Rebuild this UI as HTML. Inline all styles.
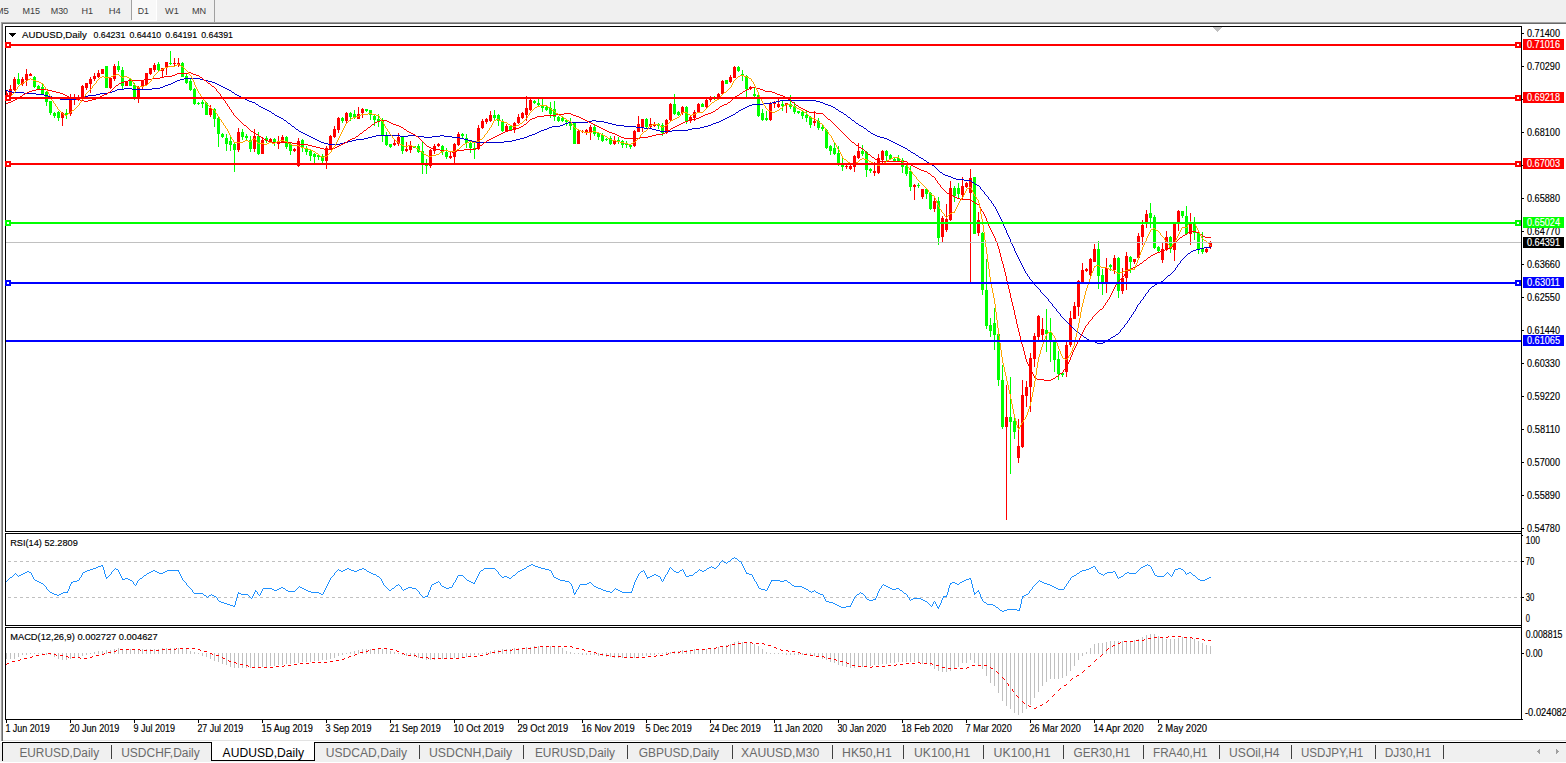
<!DOCTYPE html>
<html><head><meta charset="utf-8"><title>AUDUSD,Daily</title>
<style>
html,body{margin:0;padding:0;background:#fff;overflow:hidden;}
body{width:1566px;height:763px;font-family:"Liberation Sans",sans-serif;}
svg text{font-family:"Liberation Sans",sans-serif;white-space:pre;}
</style></head><body>
<svg width="1566" height="763" viewBox="0 0 1566 763" shape-rendering="crispEdges" font-family="Liberation Sans, sans-serif" style="display:block">
<rect x="0" y="0" width="1566" height="763" fill="#ffffff"/>
<rect x="0" y="0" width="1566" height="22" fill="#f0f0f0"/>
<rect x="0" y="22" width="1566" height="1" fill="#a0a0a0"/>
<rect x="1" y="23" width="1566" height="1" fill="#696969"/>
<rect x="0" y="22" width="1" height="720" fill="#f0f0f0"/>
<rect x="1" y="22" width="1" height="719" fill="#a0a0a0"/>
<rect x="2" y="23" width="1" height="718" fill="#696969"/>
<rect x="132" y="0" width="24" height="20" fill="#f8f8f8"/>
<rect x="156" y="0" width="1" height="21" fill="#ffffff"/>
<rect x="132" y="20" width="25" height="1" fill="#ffffff"/>
<rect x="131" y="0" width="1" height="20" fill="#a0a0a0"/>
<rect x="214" y="0" width="1" height="22" fill="#a0a0a0"/>
<text x="-4.5" y="14" font-size="9.2" fill="#3c3c3c" stroke="#3c3c3c" stroke-width="0" textLength="13.5" lengthAdjust="spacingAndGlyphs">M5</text>
<text x="22.4" y="14" font-size="9.2" fill="#3c3c3c" stroke="#3c3c3c" stroke-width="0" textLength="17.5" lengthAdjust="spacingAndGlyphs">M15</text>
<text x="50.7" y="14" font-size="9.2" fill="#3c3c3c" stroke="#3c3c3c" stroke-width="0" textLength="17.4" lengthAdjust="spacingAndGlyphs">M30</text>
<text x="81.4" y="14" font-size="9.2" fill="#3c3c3c" stroke="#3c3c3c" stroke-width="0" textLength="11.6" lengthAdjust="spacingAndGlyphs">H1</text>
<text x="108.7" y="14" font-size="9.2" fill="#3c3c3c" stroke="#3c3c3c" stroke-width="0" textLength="12.0" lengthAdjust="spacingAndGlyphs">H4</text>
<text x="137.8" y="14" font-size="9.2" fill="#3c3c3c" stroke="#3c3c3c" stroke-width="0" textLength="11.2" lengthAdjust="spacingAndGlyphs">D1</text>
<text x="165.1" y="14" font-size="9.2" fill="#3c3c3c" stroke="#3c3c3c" stroke-width="0" textLength="13.7" lengthAdjust="spacingAndGlyphs">W1</text>
<text x="192" y="14" font-size="9.2" fill="#3c3c3c" stroke="#3c3c3c" stroke-width="0" textLength="14.2" lengthAdjust="spacingAndGlyphs">MN</text>
<rect x="5" y="26" width="1517" height="1" fill="#000"/>
<rect x="5" y="531" width="1517" height="1" fill="#000"/>
<rect x="5" y="26" width="1" height="506" fill="#000"/>
<rect x="1521" y="26" width="1" height="694" fill="#000"/>
<rect x="5" y="533" width="1517" height="1" fill="#000"/>
<rect x="5" y="625" width="1517" height="1" fill="#000"/>
<rect x="5" y="533" width="1" height="93" fill="#000"/>
<rect x="5" y="627" width="1517" height="1" fill="#000"/>
<rect x="5" y="719" width="1517" height="1" fill="#000"/>
<rect x="5" y="627" width="1" height="93" fill="#000"/>
<polygon points="1212,27 1222,27 1217,32" fill="#c0c0c0"/>
<rect x="6" y="90" width="1" height="10" fill="#ff0000"/>
<rect x="6" y="93" width="2" height="6" fill="#ff0000"/>
<rect x="10" y="85" width="1" height="12" fill="#ff0000"/>
<rect x="9" y="89" width="3" height="7" fill="#ff0000"/>
<rect x="14" y="77" width="1" height="14" fill="#ff0000"/>
<rect x="13" y="79" width="3" height="11" fill="#ff0000"/>
<rect x="18" y="73" width="1" height="12" fill="#00ff00"/>
<rect x="17" y="79" width="3" height="5" fill="#00ff00"/>
<rect x="22" y="77" width="1" height="9" fill="#ff0000"/>
<rect x="21" y="79" width="3" height="5" fill="#ff0000"/>
<rect x="26" y="69" width="1" height="17" fill="#ff0000"/>
<rect x="25" y="74" width="3" height="6" fill="#ff0000"/>
<rect x="30" y="73" width="1" height="3" fill="#ff0000"/>
<rect x="29" y="74" width="3" height="2" fill="#ff0000"/>
<rect x="34" y="76" width="1" height="12" fill="#00ff00"/>
<rect x="33" y="77" width="3" height="10" fill="#00ff00"/>
<rect x="38" y="85" width="1" height="5" fill="#00ff00"/>
<rect x="37" y="86" width="3" height="3" fill="#00ff00"/>
<rect x="42" y="84" width="1" height="11" fill="#00ff00"/>
<rect x="41" y="87" width="3" height="7" fill="#00ff00"/>
<rect x="46" y="91" width="1" height="15" fill="#00ff00"/>
<rect x="45" y="92" width="3" height="10" fill="#00ff00"/>
<rect x="50" y="101" width="1" height="14" fill="#00ff00"/>
<rect x="49" y="101" width="3" height="12" fill="#00ff00"/>
<rect x="54" y="112" width="1" height="6" fill="#00ff00"/>
<rect x="53" y="113" width="3" height="3" fill="#00ff00"/>
<rect x="58" y="111" width="1" height="10" fill="#00ff00"/>
<rect x="57" y="112" width="3" height="6" fill="#00ff00"/>
<rect x="62" y="112" width="1" height="14" fill="#ff0000"/>
<rect x="61" y="113" width="3" height="5" fill="#ff0000"/>
<rect x="66" y="109" width="1" height="10" fill="#00ff00"/>
<rect x="65" y="113" width="3" height="2" fill="#00ff00"/>
<rect x="70" y="94" width="1" height="22" fill="#ff0000"/>
<rect x="69" y="99" width="3" height="15" fill="#ff0000"/>
<rect x="74" y="94" width="1" height="11" fill="#ff0000"/>
<rect x="73" y="98" width="3" height="2" fill="#ff0000"/>
<rect x="78" y="95" width="1" height="6" fill="#ff0000"/>
<rect x="77" y="98" width="3" height="2" fill="#ff0000"/>
<rect x="82" y="85" width="1" height="13" fill="#ff0000"/>
<rect x="81" y="86" width="3" height="11" fill="#ff0000"/>
<rect x="86" y="83" width="1" height="7" fill="#ff0000"/>
<rect x="85" y="83" width="3" height="5" fill="#ff0000"/>
<rect x="90" y="77" width="1" height="16" fill="#ff0000"/>
<rect x="89" y="79" width="3" height="5" fill="#ff0000"/>
<rect x="94" y="73" width="1" height="8" fill="#ff0000"/>
<rect x="93" y="76" width="3" height="3" fill="#ff0000"/>
<rect x="98" y="70" width="1" height="8" fill="#ff0000"/>
<rect x="97" y="73" width="3" height="4" fill="#ff0000"/>
<rect x="102" y="69" width="1" height="5" fill="#ff0000"/>
<rect x="101" y="69" width="3" height="5" fill="#ff0000"/>
<rect x="106" y="66" width="1" height="22" fill="#00ff00"/>
<rect x="105" y="66" width="3" height="22" fill="#00ff00"/>
<rect x="110" y="77" width="1" height="12" fill="#ff0000"/>
<rect x="109" y="78" width="3" height="10" fill="#ff0000"/>
<rect x="114" y="64" width="1" height="17" fill="#ff0000"/>
<rect x="113" y="66" width="3" height="13" fill="#ff0000"/>
<rect x="118" y="61" width="1" height="11" fill="#00ff00"/>
<rect x="117" y="66" width="3" height="4" fill="#00ff00"/>
<rect x="122" y="67" width="1" height="22" fill="#00ff00"/>
<rect x="121" y="70" width="3" height="16" fill="#00ff00"/>
<rect x="126" y="81" width="1" height="5" fill="#ff0000"/>
<rect x="125" y="81" width="3" height="5" fill="#ff0000"/>
<rect x="130" y="78" width="1" height="8" fill="#00ff00"/>
<rect x="129" y="79" width="3" height="7" fill="#00ff00"/>
<rect x="134" y="83" width="1" height="17" fill="#00ff00"/>
<rect x="133" y="85" width="3" height="12" fill="#00ff00"/>
<rect x="138" y="86" width="1" height="17" fill="#ff0000"/>
<rect x="137" y="87" width="3" height="11" fill="#ff0000"/>
<rect x="142" y="80" width="1" height="9" fill="#ff0000"/>
<rect x="141" y="81" width="3" height="6" fill="#ff0000"/>
<rect x="146" y="73" width="1" height="13" fill="#ff0000"/>
<rect x="145" y="73" width="3" height="12" fill="#ff0000"/>
<rect x="150" y="68" width="1" height="7" fill="#ff0000"/>
<rect x="149" y="68" width="3" height="6" fill="#ff0000"/>
<rect x="154" y="63" width="1" height="9" fill="#ff0000"/>
<rect x="153" y="65" width="3" height="5" fill="#ff0000"/>
<rect x="158" y="62" width="1" height="9" fill="#00ff00"/>
<rect x="157" y="64" width="3" height="6" fill="#00ff00"/>
<rect x="162" y="68" width="1" height="9" fill="#ff0000"/>
<rect x="161" y="68" width="3" height="3" fill="#ff0000"/>
<rect x="166" y="62" width="1" height="13" fill="#ff0000"/>
<rect x="165" y="62" width="3" height="6" fill="#ff0000"/>
<rect x="170" y="51" width="1" height="14" fill="#00ff00"/>
<rect x="169" y="63" width="3" height="1" fill="#00ff00"/>
<rect x="174" y="58" width="1" height="8" fill="#ff0000"/>
<rect x="173" y="63" width="3" height="1" fill="#ff0000"/>
<rect x="178" y="58" width="1" height="9" fill="#ff0000"/>
<rect x="177" y="63" width="3" height="2" fill="#ff0000"/>
<rect x="182" y="62" width="1" height="15" fill="#00ff00"/>
<rect x="181" y="63" width="3" height="14" fill="#00ff00"/>
<rect x="186" y="74" width="1" height="10" fill="#00ff00"/>
<rect x="185" y="76" width="3" height="7" fill="#00ff00"/>
<rect x="190" y="79" width="1" height="12" fill="#00ff00"/>
<rect x="189" y="81" width="3" height="9" fill="#00ff00"/>
<rect x="194" y="88" width="1" height="17" fill="#00ff00"/>
<rect x="193" y="89" width="3" height="15" fill="#00ff00"/>
<rect x="198" y="102" width="1" height="3" fill="#00ff00"/>
<rect x="197" y="103" width="3" height="1" fill="#00ff00"/>
<rect x="202" y="100" width="1" height="8" fill="#00ff00"/>
<rect x="201" y="102" width="3" height="2" fill="#00ff00"/>
<rect x="206" y="102" width="1" height="13" fill="#00ff00"/>
<rect x="205" y="103" width="3" height="12" fill="#00ff00"/>
<rect x="210" y="105" width="1" height="12" fill="#ff0000"/>
<rect x="209" y="108" width="3" height="7" fill="#ff0000"/>
<rect x="214" y="108" width="1" height="19" fill="#00ff00"/>
<rect x="213" y="109" width="3" height="10" fill="#00ff00"/>
<rect x="218" y="116" width="1" height="31" fill="#00ff00"/>
<rect x="217" y="118" width="3" height="16" fill="#00ff00"/>
<rect x="222" y="133" width="1" height="5" fill="#00ff00"/>
<rect x="221" y="134" width="3" height="3" fill="#00ff00"/>
<rect x="226" y="134" width="1" height="17" fill="#00ff00"/>
<rect x="225" y="138" width="3" height="6" fill="#00ff00"/>
<rect x="230" y="135" width="1" height="16" fill="#00ff00"/>
<rect x="229" y="141" width="3" height="4" fill="#00ff00"/>
<rect x="234" y="142" width="1" height="30" fill="#00ff00"/>
<rect x="233" y="144" width="3" height="6" fill="#00ff00"/>
<rect x="238" y="128" width="1" height="24" fill="#ff0000"/>
<rect x="237" y="132" width="3" height="18" fill="#ff0000"/>
<rect x="242" y="129" width="1" height="11" fill="#00ff00"/>
<rect x="241" y="132" width="3" height="5" fill="#00ff00"/>
<rect x="246" y="134" width="1" height="6" fill="#00ff00"/>
<rect x="245" y="136" width="3" height="2" fill="#00ff00"/>
<rect x="250" y="136" width="1" height="16" fill="#00ff00"/>
<rect x="249" y="140" width="3" height="9" fill="#00ff00"/>
<rect x="254" y="129" width="1" height="23" fill="#ff0000"/>
<rect x="253" y="136" width="3" height="13" fill="#ff0000"/>
<rect x="258" y="132" width="1" height="23" fill="#00ff00"/>
<rect x="257" y="136" width="3" height="18" fill="#00ff00"/>
<rect x="262" y="137" width="1" height="17" fill="#ff0000"/>
<rect x="261" y="140" width="3" height="14" fill="#ff0000"/>
<rect x="266" y="136" width="1" height="7" fill="#00ff00"/>
<rect x="265" y="138" width="3" height="3" fill="#00ff00"/>
<rect x="270" y="138" width="1" height="4" fill="#ff0000"/>
<rect x="269" y="139" width="3" height="2" fill="#ff0000"/>
<rect x="274" y="138" width="1" height="8" fill="#00ff00"/>
<rect x="273" y="139" width="3" height="4" fill="#00ff00"/>
<rect x="278" y="136" width="1" height="13" fill="#ff0000"/>
<rect x="277" y="141" width="3" height="3" fill="#ff0000"/>
<rect x="282" y="135" width="1" height="8" fill="#ff0000"/>
<rect x="281" y="137" width="3" height="5" fill="#ff0000"/>
<rect x="286" y="136" width="1" height="13" fill="#00ff00"/>
<rect x="285" y="137" width="3" height="10" fill="#00ff00"/>
<rect x="290" y="142" width="1" height="13" fill="#00ff00"/>
<rect x="289" y="144" width="3" height="7" fill="#00ff00"/>
<rect x="294" y="148" width="1" height="4" fill="#ff0000"/>
<rect x="293" y="149" width="3" height="2" fill="#ff0000"/>
<rect x="298" y="138" width="1" height="29" fill="#ff0000"/>
<rect x="297" y="141" width="3" height="25" fill="#ff0000"/>
<rect x="302" y="139" width="1" height="13" fill="#00ff00"/>
<rect x="301" y="140" width="3" height="7" fill="#00ff00"/>
<rect x="306" y="146" width="1" height="9" fill="#00ff00"/>
<rect x="305" y="148" width="3" height="4" fill="#00ff00"/>
<rect x="310" y="150" width="1" height="11" fill="#00ff00"/>
<rect x="309" y="151" width="3" height="5" fill="#00ff00"/>
<rect x="314" y="153" width="1" height="10" fill="#00ff00"/>
<rect x="313" y="154" width="3" height="3" fill="#00ff00"/>
<rect x="318" y="154" width="1" height="6" fill="#00ff00"/>
<rect x="317" y="155" width="3" height="2" fill="#00ff00"/>
<rect x="322" y="154" width="1" height="9" fill="#00ff00"/>
<rect x="321" y="156" width="3" height="5" fill="#00ff00"/>
<rect x="326" y="146" width="1" height="23" fill="#ff0000"/>
<rect x="325" y="148" width="3" height="13" fill="#ff0000"/>
<rect x="330" y="135" width="1" height="15" fill="#ff0000"/>
<rect x="329" y="136" width="3" height="13" fill="#ff0000"/>
<rect x="334" y="126" width="1" height="12" fill="#ff0000"/>
<rect x="333" y="129" width="3" height="8" fill="#ff0000"/>
<rect x="338" y="117" width="1" height="16" fill="#ff0000"/>
<rect x="337" y="118" width="3" height="12" fill="#ff0000"/>
<rect x="342" y="117" width="1" height="6" fill="#00ff00"/>
<rect x="341" y="118" width="3" height="3" fill="#00ff00"/>
<rect x="346" y="112" width="1" height="11" fill="#ff0000"/>
<rect x="345" y="113" width="3" height="8" fill="#ff0000"/>
<rect x="350" y="112" width="1" height="9" fill="#00ff00"/>
<rect x="349" y="113" width="3" height="4" fill="#00ff00"/>
<rect x="354" y="110" width="1" height="9" fill="#00ff00"/>
<rect x="353" y="114" width="3" height="3" fill="#00ff00"/>
<rect x="358" y="107" width="1" height="12" fill="#ff0000"/>
<rect x="357" y="114" width="3" height="5" fill="#ff0000"/>
<rect x="362" y="108" width="1" height="10" fill="#ff0000"/>
<rect x="361" y="109" width="3" height="4" fill="#ff0000"/>
<rect x="366" y="109" width="1" height="3" fill="#00ff00"/>
<rect x="365" y="109" width="3" height="2" fill="#00ff00"/>
<rect x="370" y="110" width="1" height="10" fill="#00ff00"/>
<rect x="369" y="110" width="3" height="5" fill="#00ff00"/>
<rect x="374" y="115" width="1" height="11" fill="#00ff00"/>
<rect x="373" y="116" width="3" height="4" fill="#00ff00"/>
<rect x="378" y="114" width="1" height="13" fill="#00ff00"/>
<rect x="377" y="119" width="3" height="2" fill="#00ff00"/>
<rect x="382" y="118" width="1" height="24" fill="#00ff00"/>
<rect x="381" y="121" width="3" height="15" fill="#00ff00"/>
<rect x="386" y="132" width="1" height="14" fill="#00ff00"/>
<rect x="385" y="135" width="3" height="10" fill="#00ff00"/>
<rect x="390" y="144" width="1" height="4" fill="#00ff00"/>
<rect x="389" y="144" width="3" height="3" fill="#00ff00"/>
<rect x="394" y="140" width="1" height="6" fill="#ff0000"/>
<rect x="393" y="143" width="3" height="2" fill="#ff0000"/>
<rect x="398" y="133" width="1" height="13" fill="#ff0000"/>
<rect x="397" y="137" width="3" height="7" fill="#ff0000"/>
<rect x="402" y="136" width="1" height="18" fill="#00ff00"/>
<rect x="401" y="137" width="3" height="14" fill="#00ff00"/>
<rect x="406" y="142" width="1" height="10" fill="#ff0000"/>
<rect x="405" y="149" width="3" height="2" fill="#ff0000"/>
<rect x="410" y="141" width="1" height="12" fill="#ff0000"/>
<rect x="409" y="146" width="3" height="4" fill="#ff0000"/>
<rect x="414" y="146" width="1" height="2" fill="#00ff00"/>
<rect x="413" y="146" width="3" height="2" fill="#00ff00"/>
<rect x="418" y="144" width="1" height="9" fill="#00ff00"/>
<rect x="417" y="146" width="3" height="6" fill="#00ff00"/>
<rect x="422" y="142" width="1" height="32" fill="#00ff00"/>
<rect x="421" y="151" width="3" height="13" fill="#00ff00"/>
<rect x="426" y="159" width="1" height="15" fill="#00ff00"/>
<rect x="425" y="163" width="3" height="3" fill="#00ff00"/>
<rect x="430" y="149" width="1" height="19" fill="#ff0000"/>
<rect x="429" y="150" width="3" height="16" fill="#ff0000"/>
<rect x="434" y="144" width="1" height="10" fill="#ff0000"/>
<rect x="433" y="146" width="3" height="5" fill="#ff0000"/>
<rect x="438" y="143" width="1" height="4" fill="#ff0000"/>
<rect x="437" y="144" width="3" height="2" fill="#ff0000"/>
<rect x="442" y="145" width="1" height="10" fill="#00ff00"/>
<rect x="441" y="146" width="3" height="6" fill="#00ff00"/>
<rect x="446" y="148" width="1" height="11" fill="#00ff00"/>
<rect x="445" y="152" width="3" height="5" fill="#00ff00"/>
<rect x="450" y="152" width="1" height="7" fill="#ff0000"/>
<rect x="449" y="156" width="3" height="2" fill="#ff0000"/>
<rect x="454" y="143" width="1" height="20" fill="#ff0000"/>
<rect x="453" y="144" width="3" height="13" fill="#ff0000"/>
<rect x="458" y="132" width="1" height="14" fill="#ff0000"/>
<rect x="457" y="134" width="3" height="11" fill="#ff0000"/>
<rect x="462" y="133" width="1" height="5" fill="#00ff00"/>
<rect x="461" y="134" width="3" height="2" fill="#00ff00"/>
<rect x="466" y="134" width="1" height="14" fill="#00ff00"/>
<rect x="465" y="138" width="3" height="5" fill="#00ff00"/>
<rect x="470" y="142" width="1" height="11" fill="#00ff00"/>
<rect x="469" y="143" width="3" height="5" fill="#00ff00"/>
<rect x="474" y="142" width="1" height="17" fill="#00ff00"/>
<rect x="473" y="148" width="3" height="2" fill="#00ff00"/>
<rect x="478" y="125" width="1" height="25" fill="#ff0000"/>
<rect x="477" y="128" width="3" height="21" fill="#ff0000"/>
<rect x="482" y="119" width="1" height="10" fill="#ff0000"/>
<rect x="481" y="121" width="3" height="7" fill="#ff0000"/>
<rect x="486" y="118" width="1" height="6" fill="#ff0000"/>
<rect x="485" y="119" width="3" height="3" fill="#ff0000"/>
<rect x="490" y="111" width="1" height="11" fill="#ff0000"/>
<rect x="489" y="115" width="3" height="6" fill="#ff0000"/>
<rect x="494" y="110" width="1" height="10" fill="#00ff00"/>
<rect x="493" y="115" width="3" height="3" fill="#00ff00"/>
<rect x="498" y="114" width="1" height="12" fill="#00ff00"/>
<rect x="497" y="115" width="3" height="6" fill="#00ff00"/>
<rect x="502" y="119" width="1" height="13" fill="#00ff00"/>
<rect x="501" y="121" width="3" height="10" fill="#00ff00"/>
<rect x="506" y="124" width="1" height="8" fill="#ff0000"/>
<rect x="505" y="126" width="3" height="5" fill="#ff0000"/>
<rect x="510" y="126" width="1" height="5" fill="#00ff00"/>
<rect x="509" y="126" width="3" height="4" fill="#00ff00"/>
<rect x="514" y="122" width="1" height="11" fill="#ff0000"/>
<rect x="513" y="123" width="3" height="6" fill="#ff0000"/>
<rect x="518" y="114" width="1" height="10" fill="#ff0000"/>
<rect x="517" y="117" width="3" height="6" fill="#ff0000"/>
<rect x="522" y="112" width="1" height="7" fill="#ff0000"/>
<rect x="521" y="113" width="3" height="5" fill="#ff0000"/>
<rect x="526" y="96" width="1" height="25" fill="#ff0000"/>
<rect x="525" y="108" width="3" height="7" fill="#ff0000"/>
<rect x="530" y="99" width="1" height="12" fill="#ff0000"/>
<rect x="529" y="100" width="3" height="10" fill="#ff0000"/>
<rect x="534" y="100" width="1" height="4" fill="#00ff00"/>
<rect x="533" y="101" width="3" height="2" fill="#00ff00"/>
<rect x="538" y="99" width="1" height="7" fill="#00ff00"/>
<rect x="537" y="103" width="3" height="2" fill="#00ff00"/>
<rect x="542" y="99" width="1" height="13" fill="#00ff00"/>
<rect x="541" y="105" width="3" height="3" fill="#00ff00"/>
<rect x="546" y="105" width="1" height="6" fill="#00ff00"/>
<rect x="545" y="107" width="3" height="3" fill="#00ff00"/>
<rect x="550" y="102" width="1" height="16" fill="#00ff00"/>
<rect x="549" y="108" width="3" height="6" fill="#00ff00"/>
<rect x="554" y="101" width="1" height="20" fill="#00ff00"/>
<rect x="553" y="109" width="3" height="8" fill="#00ff00"/>
<rect x="558" y="116" width="1" height="6" fill="#00ff00"/>
<rect x="557" y="117" width="3" height="4" fill="#00ff00"/>
<rect x="562" y="116" width="1" height="6" fill="#00ff00"/>
<rect x="561" y="118" width="3" height="3" fill="#00ff00"/>
<rect x="566" y="119" width="1" height="7" fill="#00ff00"/>
<rect x="565" y="120" width="3" height="2" fill="#00ff00"/>
<rect x="570" y="118" width="1" height="12" fill="#00ff00"/>
<rect x="569" y="122" width="3" height="4" fill="#00ff00"/>
<rect x="574" y="122" width="1" height="22" fill="#00ff00"/>
<rect x="573" y="123" width="3" height="21" fill="#00ff00"/>
<rect x="578" y="130" width="1" height="14" fill="#ff0000"/>
<rect x="577" y="131" width="3" height="13" fill="#ff0000"/>
<rect x="582" y="130" width="1" height="3" fill="#ff0000"/>
<rect x="581" y="131" width="3" height="1" fill="#ff0000"/>
<rect x="586" y="129" width="1" height="6" fill="#ff0000"/>
<rect x="585" y="130" width="3" height="2" fill="#ff0000"/>
<rect x="590" y="125" width="1" height="15" fill="#ff0000"/>
<rect x="589" y="127" width="3" height="5" fill="#ff0000"/>
<rect x="594" y="125" width="1" height="11" fill="#00ff00"/>
<rect x="593" y="127" width="3" height="7" fill="#00ff00"/>
<rect x="598" y="132" width="1" height="8" fill="#00ff00"/>
<rect x="597" y="133" width="3" height="4" fill="#00ff00"/>
<rect x="602" y="133" width="1" height="9" fill="#00ff00"/>
<rect x="601" y="135" width="3" height="6" fill="#00ff00"/>
<rect x="606" y="138" width="1" height="3" fill="#00ff00"/>
<rect x="605" y="139" width="3" height="1" fill="#00ff00"/>
<rect x="610" y="136" width="1" height="9" fill="#00ff00"/>
<rect x="609" y="138" width="3" height="6" fill="#00ff00"/>
<rect x="614" y="136" width="1" height="9" fill="#ff0000"/>
<rect x="613" y="140" width="3" height="4" fill="#ff0000"/>
<rect x="618" y="137" width="1" height="7" fill="#00ff00"/>
<rect x="617" y="140" width="3" height="2" fill="#00ff00"/>
<rect x="622" y="140" width="1" height="8" fill="#00ff00"/>
<rect x="621" y="141" width="3" height="4" fill="#00ff00"/>
<rect x="626" y="141" width="1" height="7" fill="#00ff00"/>
<rect x="625" y="144" width="3" height="1" fill="#00ff00"/>
<rect x="630" y="144" width="1" height="5" fill="#00ff00"/>
<rect x="629" y="145" width="3" height="2" fill="#00ff00"/>
<rect x="634" y="130" width="1" height="17" fill="#ff0000"/>
<rect x="633" y="131" width="3" height="15" fill="#ff0000"/>
<rect x="638" y="116" width="1" height="16" fill="#ff0000"/>
<rect x="637" y="124" width="3" height="8" fill="#ff0000"/>
<rect x="642" y="119" width="1" height="13" fill="#ff0000"/>
<rect x="641" y="119" width="3" height="8" fill="#ff0000"/>
<rect x="646" y="118" width="1" height="11" fill="#00ff00"/>
<rect x="645" y="119" width="3" height="8" fill="#00ff00"/>
<rect x="650" y="118" width="1" height="10" fill="#ff0000"/>
<rect x="649" y="124" width="3" height="3" fill="#ff0000"/>
<rect x="654" y="122" width="1" height="5" fill="#ff0000"/>
<rect x="653" y="124" width="3" height="2" fill="#ff0000"/>
<rect x="658" y="123" width="1" height="6" fill="#00ff00"/>
<rect x="657" y="124" width="3" height="2" fill="#00ff00"/>
<rect x="662" y="123" width="1" height="13" fill="#00ff00"/>
<rect x="661" y="125" width="3" height="8" fill="#00ff00"/>
<rect x="666" y="119" width="1" height="15" fill="#ff0000"/>
<rect x="665" y="120" width="3" height="13" fill="#ff0000"/>
<rect x="670" y="103" width="1" height="18" fill="#ff0000"/>
<rect x="669" y="104" width="3" height="16" fill="#ff0000"/>
<rect x="674" y="94" width="1" height="21" fill="#00ff00"/>
<rect x="673" y="104" width="3" height="10" fill="#00ff00"/>
<rect x="678" y="111" width="1" height="5" fill="#00ff00"/>
<rect x="677" y="112" width="3" height="3" fill="#00ff00"/>
<rect x="682" y="106" width="1" height="9" fill="#ff0000"/>
<rect x="681" y="107" width="3" height="6" fill="#ff0000"/>
<rect x="686" y="106" width="1" height="18" fill="#00ff00"/>
<rect x="685" y="107" width="3" height="14" fill="#00ff00"/>
<rect x="690" y="116" width="1" height="7" fill="#ff0000"/>
<rect x="689" y="117" width="3" height="4" fill="#ff0000"/>
<rect x="694" y="110" width="1" height="11" fill="#ff0000"/>
<rect x="693" y="112" width="3" height="6" fill="#ff0000"/>
<rect x="698" y="103" width="1" height="10" fill="#ff0000"/>
<rect x="697" y="104" width="3" height="8" fill="#ff0000"/>
<rect x="702" y="103" width="1" height="4" fill="#00ff00"/>
<rect x="701" y="104" width="3" height="3" fill="#00ff00"/>
<rect x="706" y="99" width="1" height="9" fill="#ff0000"/>
<rect x="705" y="100" width="3" height="7" fill="#ff0000"/>
<rect x="710" y="96" width="1" height="6" fill="#ff0000"/>
<rect x="709" y="97" width="3" height="3" fill="#ff0000"/>
<rect x="714" y="96" width="1" height="4" fill="#00ff00"/>
<rect x="713" y="97" width="3" height="1" fill="#00ff00"/>
<rect x="718" y="93" width="1" height="6" fill="#ff0000"/>
<rect x="717" y="94" width="3" height="4" fill="#ff0000"/>
<rect x="722" y="80" width="1" height="15" fill="#ff0000"/>
<rect x="721" y="81" width="3" height="13" fill="#ff0000"/>
<rect x="726" y="80" width="1" height="4" fill="#00ff00"/>
<rect x="725" y="80" width="3" height="4" fill="#00ff00"/>
<rect x="730" y="75" width="1" height="8" fill="#ff0000"/>
<rect x="729" y="77" width="3" height="5" fill="#ff0000"/>
<rect x="734" y="66" width="1" height="12" fill="#ff0000"/>
<rect x="733" y="67" width="3" height="11" fill="#ff0000"/>
<rect x="738" y="66" width="1" height="6" fill="#00ff00"/>
<rect x="737" y="67" width="3" height="4" fill="#00ff00"/>
<rect x="742" y="70" width="1" height="11" fill="#00ff00"/>
<rect x="741" y="74" width="3" height="2" fill="#00ff00"/>
<rect x="746" y="75" width="1" height="22" fill="#00ff00"/>
<rect x="745" y="76" width="3" height="13" fill="#00ff00"/>
<rect x="750" y="86" width="1" height="4" fill="#ff0000"/>
<rect x="749" y="87" width="3" height="2" fill="#ff0000"/>
<rect x="754" y="88" width="1" height="9" fill="#00ff00"/>
<rect x="753" y="94" width="3" height="2" fill="#00ff00"/>
<rect x="758" y="94" width="1" height="23" fill="#00ff00"/>
<rect x="757" y="95" width="3" height="21" fill="#00ff00"/>
<rect x="762" y="109" width="1" height="12" fill="#00ff00"/>
<rect x="761" y="113" width="3" height="7" fill="#00ff00"/>
<rect x="766" y="111" width="1" height="10" fill="#00ff00"/>
<rect x="765" y="118" width="3" height="2" fill="#00ff00"/>
<rect x="770" y="102" width="1" height="19" fill="#ff0000"/>
<rect x="769" y="103" width="3" height="17" fill="#ff0000"/>
<rect x="774" y="101" width="1" height="7" fill="#ff0000"/>
<rect x="773" y="102" width="3" height="2" fill="#ff0000"/>
<rect x="778" y="99" width="1" height="9" fill="#ff0000"/>
<rect x="777" y="104" width="3" height="3" fill="#ff0000"/>
<rect x="782" y="101" width="1" height="10" fill="#00ff00"/>
<rect x="781" y="104" width="3" height="2" fill="#00ff00"/>
<rect x="786" y="103" width="1" height="10" fill="#ff0000"/>
<rect x="785" y="103" width="3" height="2" fill="#ff0000"/>
<rect x="790" y="95" width="1" height="14" fill="#00ff00"/>
<rect x="789" y="104" width="3" height="3" fill="#00ff00"/>
<rect x="794" y="102" width="1" height="12" fill="#00ff00"/>
<rect x="793" y="106" width="3" height="6" fill="#00ff00"/>
<rect x="798" y="111" width="1" height="3" fill="#00ff00"/>
<rect x="797" y="111" width="3" height="2" fill="#00ff00"/>
<rect x="802" y="111" width="1" height="8" fill="#00ff00"/>
<rect x="801" y="112" width="3" height="4" fill="#00ff00"/>
<rect x="806" y="111" width="1" height="11" fill="#00ff00"/>
<rect x="805" y="115" width="3" height="3" fill="#00ff00"/>
<rect x="810" y="116" width="1" height="12" fill="#00ff00"/>
<rect x="809" y="117" width="3" height="8" fill="#00ff00"/>
<rect x="814" y="111" width="1" height="15" fill="#ff0000"/>
<rect x="813" y="121" width="3" height="2" fill="#ff0000"/>
<rect x="818" y="118" width="1" height="12" fill="#00ff00"/>
<rect x="817" y="121" width="3" height="7" fill="#00ff00"/>
<rect x="822" y="125" width="1" height="6" fill="#00ff00"/>
<rect x="821" y="127" width="3" height="2" fill="#00ff00"/>
<rect x="826" y="129" width="1" height="20" fill="#00ff00"/>
<rect x="825" y="130" width="3" height="18" fill="#00ff00"/>
<rect x="830" y="145" width="1" height="10" fill="#00ff00"/>
<rect x="829" y="146" width="3" height="5" fill="#00ff00"/>
<rect x="834" y="142" width="1" height="13" fill="#00ff00"/>
<rect x="833" y="148" width="3" height="6" fill="#00ff00"/>
<rect x="838" y="146" width="1" height="20" fill="#00ff00"/>
<rect x="837" y="153" width="3" height="10" fill="#00ff00"/>
<rect x="842" y="157" width="1" height="14" fill="#00ff00"/>
<rect x="841" y="165" width="3" height="2" fill="#00ff00"/>
<rect x="846" y="165" width="1" height="4" fill="#ff0000"/>
<rect x="845" y="166" width="3" height="1" fill="#ff0000"/>
<rect x="850" y="165" width="1" height="5" fill="#ff0000"/>
<rect x="849" y="166" width="3" height="3" fill="#ff0000"/>
<rect x="854" y="155" width="1" height="17" fill="#ff0000"/>
<rect x="853" y="156" width="3" height="11" fill="#ff0000"/>
<rect x="858" y="143" width="1" height="16" fill="#ff0000"/>
<rect x="857" y="151" width="3" height="7" fill="#ff0000"/>
<rect x="862" y="145" width="1" height="11" fill="#00ff00"/>
<rect x="861" y="151" width="3" height="3" fill="#00ff00"/>
<rect x="866" y="151" width="1" height="26" fill="#00ff00"/>
<rect x="865" y="152" width="3" height="18" fill="#00ff00"/>
<rect x="870" y="168" width="1" height="5" fill="#00ff00"/>
<rect x="869" y="169" width="3" height="2" fill="#00ff00"/>
<rect x="874" y="162" width="1" height="14" fill="#ff0000"/>
<rect x="873" y="171" width="3" height="2" fill="#ff0000"/>
<rect x="878" y="154" width="1" height="20" fill="#ff0000"/>
<rect x="877" y="158" width="3" height="15" fill="#ff0000"/>
<rect x="882" y="150" width="1" height="13" fill="#ff0000"/>
<rect x="881" y="151" width="3" height="9" fill="#ff0000"/>
<rect x="886" y="150" width="1" height="12" fill="#00ff00"/>
<rect x="885" y="151" width="3" height="5" fill="#00ff00"/>
<rect x="890" y="154" width="1" height="6" fill="#00ff00"/>
<rect x="889" y="155" width="3" height="4" fill="#00ff00"/>
<rect x="894" y="158" width="1" height="4" fill="#00ff00"/>
<rect x="893" y="159" width="3" height="2" fill="#00ff00"/>
<rect x="898" y="155" width="1" height="7" fill="#00ff00"/>
<rect x="897" y="158" width="3" height="3" fill="#00ff00"/>
<rect x="902" y="158" width="1" height="15" fill="#00ff00"/>
<rect x="901" y="160" width="3" height="7" fill="#00ff00"/>
<rect x="906" y="163" width="1" height="13" fill="#00ff00"/>
<rect x="905" y="166" width="3" height="8" fill="#00ff00"/>
<rect x="910" y="166" width="1" height="25" fill="#00ff00"/>
<rect x="909" y="171" width="3" height="16" fill="#00ff00"/>
<rect x="914" y="184" width="1" height="16" fill="#ff0000"/>
<rect x="913" y="185" width="3" height="2" fill="#ff0000"/>
<rect x="918" y="183" width="1" height="5" fill="#00ff00"/>
<rect x="917" y="185" width="3" height="1" fill="#00ff00"/>
<rect x="922" y="189" width="1" height="10" fill="#ff0000"/>
<rect x="921" y="189" width="3" height="8" fill="#ff0000"/>
<rect x="926" y="188" width="1" height="11" fill="#00ff00"/>
<rect x="925" y="189" width="3" height="5" fill="#00ff00"/>
<rect x="930" y="192" width="1" height="18" fill="#00ff00"/>
<rect x="929" y="193" width="3" height="16" fill="#00ff00"/>
<rect x="934" y="196" width="1" height="16" fill="#ff0000"/>
<rect x="933" y="201" width="3" height="8" fill="#ff0000"/>
<rect x="938" y="197" width="1" height="48" fill="#00ff00"/>
<rect x="937" y="201" width="3" height="37" fill="#00ff00"/>
<rect x="942" y="216" width="1" height="27" fill="#ff0000"/>
<rect x="941" y="218" width="3" height="19" fill="#ff0000"/>
<rect x="946" y="204" width="1" height="28" fill="#ff0000"/>
<rect x="945" y="219" width="3" height="11" fill="#ff0000"/>
<rect x="950" y="181" width="1" height="40" fill="#ff0000"/>
<rect x="949" y="188" width="3" height="32" fill="#ff0000"/>
<rect x="954" y="186" width="1" height="16" fill="#00ff00"/>
<rect x="953" y="188" width="3" height="8" fill="#00ff00"/>
<rect x="958" y="183" width="1" height="16" fill="#00ff00"/>
<rect x="957" y="188" width="3" height="6" fill="#00ff00"/>
<rect x="962" y="177" width="1" height="22" fill="#ff0000"/>
<rect x="961" y="186" width="3" height="9" fill="#ff0000"/>
<rect x="966" y="182" width="1" height="6" fill="#ff0000"/>
<rect x="965" y="183" width="3" height="4" fill="#ff0000"/>
<rect x="970" y="169" width="1" height="114" fill="#ff0000"/>
<rect x="969" y="178" width="3" height="15" fill="#ff0000"/>
<rect x="974" y="177" width="1" height="57" fill="#00ff00"/>
<rect x="973" y="177" width="3" height="57" fill="#00ff00"/>
<rect x="978" y="212" width="1" height="24" fill="#ff0000"/>
<rect x="977" y="220" width="3" height="13" fill="#ff0000"/>
<rect x="982" y="232" width="1" height="63" fill="#00ff00"/>
<rect x="981" y="233" width="3" height="57" fill="#00ff00"/>
<rect x="986" y="259" width="1" height="70" fill="#00ff00"/>
<rect x="985" y="290" width="3" height="36" fill="#00ff00"/>
<rect x="990" y="318" width="1" height="19" fill="#00ff00"/>
<rect x="989" y="325" width="3" height="6" fill="#00ff00"/>
<rect x="994" y="308" width="1" height="42" fill="#00ff00"/>
<rect x="993" y="323" width="3" height="12" fill="#00ff00"/>
<rect x="998" y="328" width="1" height="58" fill="#00ff00"/>
<rect x="997" y="334" width="3" height="46" fill="#00ff00"/>
<rect x="1002" y="365" width="1" height="64" fill="#00ff00"/>
<rect x="1001" y="380" width="3" height="47" fill="#00ff00"/>
<rect x="1006" y="385" width="1" height="135" fill="#ff0000"/>
<rect x="1005" y="417" width="3" height="10" fill="#ff0000"/>
<rect x="1010" y="377" width="1" height="97" fill="#00ff00"/>
<rect x="1009" y="417" width="3" height="5" fill="#00ff00"/>
<rect x="1014" y="417" width="1" height="22" fill="#00ff00"/>
<rect x="1013" y="421" width="3" height="11" fill="#00ff00"/>
<rect x="1018" y="419" width="1" height="44" fill="#ff0000"/>
<rect x="1017" y="446" width="3" height="12" fill="#ff0000"/>
<rect x="1022" y="380" width="1" height="68" fill="#ff0000"/>
<rect x="1021" y="395" width="3" height="52" fill="#ff0000"/>
<rect x="1026" y="381" width="1" height="26" fill="#ff0000"/>
<rect x="1025" y="387" width="3" height="9" fill="#ff0000"/>
<rect x="1030" y="353" width="1" height="59" fill="#ff0000"/>
<rect x="1029" y="358" width="3" height="29" fill="#ff0000"/>
<rect x="1034" y="333" width="1" height="34" fill="#ff0000"/>
<rect x="1033" y="336" width="3" height="23" fill="#ff0000"/>
<rect x="1038" y="315" width="1" height="25" fill="#ff0000"/>
<rect x="1037" y="316" width="3" height="21" fill="#ff0000"/>
<rect x="1042" y="318" width="1" height="22" fill="#ff0000"/>
<rect x="1041" y="329" width="3" height="6" fill="#ff0000"/>
<rect x="1046" y="309" width="1" height="43" fill="#00ff00"/>
<rect x="1045" y="330" width="3" height="4" fill="#00ff00"/>
<rect x="1050" y="318" width="1" height="44" fill="#00ff00"/>
<rect x="1049" y="332" width="3" height="9" fill="#00ff00"/>
<rect x="1054" y="340" width="1" height="32" fill="#00ff00"/>
<rect x="1053" y="341" width="3" height="19" fill="#00ff00"/>
<rect x="1058" y="351" width="1" height="29" fill="#00ff00"/>
<rect x="1057" y="359" width="3" height="15" fill="#00ff00"/>
<rect x="1062" y="372" width="1" height="5" fill="#00ff00"/>
<rect x="1061" y="373" width="3" height="2" fill="#00ff00"/>
<rect x="1066" y="342" width="1" height="35" fill="#ff0000"/>
<rect x="1065" y="345" width="3" height="27" fill="#ff0000"/>
<rect x="1070" y="311" width="1" height="36" fill="#ff0000"/>
<rect x="1069" y="318" width="3" height="27" fill="#ff0000"/>
<rect x="1074" y="302" width="1" height="17" fill="#ff0000"/>
<rect x="1073" y="306" width="3" height="13" fill="#ff0000"/>
<rect x="1078" y="280" width="1" height="36" fill="#ff0000"/>
<rect x="1077" y="281" width="3" height="26" fill="#ff0000"/>
<rect x="1082" y="263" width="1" height="20" fill="#ff0000"/>
<rect x="1081" y="270" width="3" height="12" fill="#ff0000"/>
<rect x="1086" y="268" width="1" height="4" fill="#ff0000"/>
<rect x="1085" y="269" width="3" height="2" fill="#ff0000"/>
<rect x="1090" y="258" width="1" height="18" fill="#ff0000"/>
<rect x="1089" y="259" width="3" height="16" fill="#ff0000"/>
<rect x="1094" y="244" width="1" height="18" fill="#ff0000"/>
<rect x="1093" y="249" width="3" height="13" fill="#ff0000"/>
<rect x="1098" y="241" width="1" height="48" fill="#00ff00"/>
<rect x="1097" y="249" width="3" height="27" fill="#00ff00"/>
<rect x="1102" y="269" width="1" height="26" fill="#00ff00"/>
<rect x="1101" y="275" width="3" height="8" fill="#00ff00"/>
<rect x="1106" y="258" width="1" height="35" fill="#ff0000"/>
<rect x="1105" y="268" width="3" height="15" fill="#ff0000"/>
<rect x="1110" y="264" width="1" height="7" fill="#00ff00"/>
<rect x="1109" y="265" width="3" height="2" fill="#00ff00"/>
<rect x="1114" y="255" width="1" height="19" fill="#ff0000"/>
<rect x="1113" y="258" width="3" height="12" fill="#ff0000"/>
<rect x="1118" y="257" width="1" height="41" fill="#00ff00"/>
<rect x="1117" y="258" width="3" height="33" fill="#00ff00"/>
<rect x="1122" y="268" width="1" height="26" fill="#ff0000"/>
<rect x="1121" y="278" width="3" height="13" fill="#ff0000"/>
<rect x="1126" y="252" width="1" height="38" fill="#ff0000"/>
<rect x="1125" y="256" width="3" height="22" fill="#ff0000"/>
<rect x="1130" y="256" width="1" height="17" fill="#00ff00"/>
<rect x="1129" y="257" width="3" height="5" fill="#00ff00"/>
<rect x="1134" y="259" width="1" height="5" fill="#ff0000"/>
<rect x="1133" y="259" width="3" height="3" fill="#ff0000"/>
<rect x="1138" y="233" width="1" height="25" fill="#ff0000"/>
<rect x="1137" y="236" width="3" height="22" fill="#ff0000"/>
<rect x="1142" y="220" width="1" height="25" fill="#ff0000"/>
<rect x="1141" y="225" width="3" height="12" fill="#ff0000"/>
<rect x="1146" y="210" width="1" height="18" fill="#ff0000"/>
<rect x="1145" y="214" width="3" height="9" fill="#ff0000"/>
<rect x="1150" y="203" width="1" height="25" fill="#00ff00"/>
<rect x="1149" y="213" width="3" height="5" fill="#00ff00"/>
<rect x="1154" y="215" width="1" height="34" fill="#00ff00"/>
<rect x="1153" y="217" width="3" height="31" fill="#00ff00"/>
<rect x="1158" y="246" width="1" height="6" fill="#00ff00"/>
<rect x="1157" y="247" width="3" height="4" fill="#00ff00"/>
<rect x="1162" y="243" width="1" height="20" fill="#ff0000"/>
<rect x="1161" y="249" width="3" height="11" fill="#ff0000"/>
<rect x="1166" y="231" width="1" height="20" fill="#ff0000"/>
<rect x="1165" y="237" width="3" height="13" fill="#ff0000"/>
<rect x="1170" y="236" width="1" height="17" fill="#00ff00"/>
<rect x="1169" y="237" width="3" height="12" fill="#00ff00"/>
<rect x="1174" y="223" width="1" height="38" fill="#ff0000"/>
<rect x="1173" y="224" width="3" height="26" fill="#ff0000"/>
<rect x="1178" y="210" width="1" height="21" fill="#ff0000"/>
<rect x="1177" y="211" width="3" height="13" fill="#ff0000"/>
<rect x="1182" y="211" width="1" height="7" fill="#00ff00"/>
<rect x="1181" y="211" width="3" height="5" fill="#00ff00"/>
<rect x="1186" y="206" width="1" height="29" fill="#00ff00"/>
<rect x="1185" y="216" width="3" height="18" fill="#00ff00"/>
<rect x="1190" y="213" width="1" height="32" fill="#ff0000"/>
<rect x="1189" y="222" width="3" height="12" fill="#ff0000"/>
<rect x="1194" y="217" width="1" height="23" fill="#00ff00"/>
<rect x="1193" y="223" width="3" height="10" fill="#00ff00"/>
<rect x="1198" y="232" width="1" height="22" fill="#00ff00"/>
<rect x="1197" y="233" width="3" height="16" fill="#00ff00"/>
<rect x="1202" y="232" width="1" height="22" fill="#00ff00"/>
<rect x="1201" y="248" width="3" height="4" fill="#00ff00"/>
<rect x="1206" y="248" width="1" height="5" fill="#ff0000"/>
<rect x="1205" y="249" width="3" height="3" fill="#ff0000"/>
<rect x="1210" y="241" width="1" height="8" fill="#ff0000"/>
<rect x="1209" y="242" width="3" height="5" fill="#ff0000"/>
<path d="M6 90h2v1h-2zM8 91h4v1h-4zM12 92h12v1h-12zM24 93h12v1h-12zM36 94h8v1h-8zM44 95h4v1h-4zM48 96h4v1h-4zM52 97h4v1h-4zM56 98h4v1h-4zM60 99h19v1h-19zM79 98h2v1h-2zM81 97h3v1h-3zM84 96h4v1h-4zM88 95h8v1h-8zM96 94h4v1h-4zM100 93h8v1h-8zM108 92h4v1h-4zM112 91h3v1h-3zM115 90h2v1h-2zM117 89h7v1h-7zM124 88h8v1h-8zM132 89h20v1h-20zM152 88h8v1h-8zM160 87h3v1h-3zM163 86h2v1h-2zM165 85h3v1h-3zM168 84h3v1h-3zM171 83h2v1h-2zM173 82h2v1h-2zM175 81h2v1h-2zM177 80h3v1h-3zM180 79h4v1h-4zM184 78h16v1h-16zM200 79h4v1h-4zM204 80h4v1h-4zM208 81h4v1h-4zM212 82h3v1h-3zM215 83h2v1h-2zM217 84h2v1h-2zM219 85h2v1h-2zM221 86h2v1h-2zM223 87h2v1h-2zM225 88h2v1h-2zM227 89h2v1h-2zM229 90h2v1h-2zM231 91h1v1h-1zM232 92h2v1h-2zM234 93h1v1h-1zM235 94h2v1h-2zM237 95h2v1h-2zM239 96h2v1h-2zM241 97h2v1h-2zM243 98h2v1h-2zM245 99h2v1h-2zM247 100h2v1h-2zM249 101h3v1h-3zM252 102h3v1h-3zM255 103h1v1h-1zM256 104h2v1h-2zM258 105h1v1h-1zM259 106h2v1h-2zM261 107h2v1h-2zM263 108h2v1h-2zM265 109h2v1h-2zM267 110h2v1h-2zM269 111h2v1h-2zM271 112h1v1h-1zM272 113h2v1h-2zM274 114h1v1h-1zM275 115h2v1h-2zM277 116h2v1h-2zM279 117h2v1h-2zM281 118h2v1h-2zM283 119h1v1h-1zM284 120h2v1h-2zM286 121h1v1h-1zM287 122h1v1h-1zM288 123h2v1h-2zM290 124h1v1h-1zM291 125h1v1h-1zM292 126h2v1h-2zM294 127h1v1h-1zM295 128h1v1h-1zM296 129h2v1h-2zM298 130h1v1h-1zM299 131h2v1h-2zM301 132h2v1h-2zM303 133h2v1h-2zM305 134h2v1h-2zM307 135h2v1h-2zM309 136h2v1h-2zM311 137h2v1h-2zM313 138h2v1h-2zM315 139h2v1h-2zM317 140h2v1h-2zM319 141h2v1h-2zM321 142h3v1h-3zM324 143h4v1h-4zM328 144h12v1h-12zM340 143h4v1h-4zM344 142h4v1h-4zM348 141h4v1h-4zM352 140h4v1h-4zM356 139h8v1h-8zM364 138h4v1h-4zM368 137h4v1h-4zM372 136h4v1h-4zM376 135h24v1h-24zM400 136h8v1h-8zM408 135h8v1h-8zM416 136h8v1h-8zM424 137h8v1h-8zM432 136h8v1h-8zM440 135h4v1h-4zM444 136h8v1h-8zM452 137h8v1h-8zM460 138h4v1h-4zM464 139h4v1h-4zM468 140h4v1h-4zM472 141h4v1h-4zM476 142h28v1h-28zM504 141h8v1h-8zM512 140h4v1h-4zM516 139h4v1h-4zM520 138h4v1h-4zM524 137h3v1h-3zM527 136h2v1h-2zM529 135h3v1h-3zM532 134h3v1h-3zM535 133h2v1h-2zM537 132h2v1h-2zM539 131h2v1h-2zM541 130h3v1h-3zM544 129h3v1h-3zM547 128h2v1h-2zM549 127h3v1h-3zM552 126h8v1h-8zM560 125h3v1h-3zM563 124h2v1h-2zM565 123h3v1h-3zM568 122h20v1h-20zM588 121h4v1h-4zM592 120h4v1h-4zM596 121h8v1h-8zM604 122h4v1h-4zM608 123h4v1h-4zM612 124h4v1h-4zM616 125h8v1h-8zM624 126h12v1h-12zM636 127h8v1h-8zM644 128h8v1h-8zM652 129h4v1h-4zM656 130h4v1h-4zM660 131h12v1h-12zM672 130h16v1h-16zM688 129h4v1h-4zM692 128h8v1h-8zM700 127h4v1h-4zM704 126h4v1h-4zM708 125h3v1h-3zM711 124h2v1h-2zM713 123h3v1h-3zM716 122h3v1h-3zM719 121h2v1h-2zM721 120h2v1h-2zM723 119h2v1h-2zM725 118h2v1h-2zM727 117h2v1h-2zM729 116h2v1h-2zM731 115h2v1h-2zM733 114h2v1h-2zM735 113h1v1h-1zM736 112h2v1h-2zM738 111h1v1h-1zM739 110h2v1h-2zM741 109h2v1h-2zM743 108h2v1h-2zM745 107h2v1h-2zM747 106h2v1h-2zM749 105h3v1h-3zM752 104h12v1h-12zM764 103h8v1h-8zM772 102h4v1h-4zM776 101h4v1h-4zM780 100h36v1h-36zM816 101h4v1h-4zM820 102h3v1h-3zM823 103h2v1h-2zM825 104h3v1h-3zM828 105h3v1h-3zM831 106h2v1h-2zM833 107h2v1h-2zM835 108h1v1h-1zM836 109h2v1h-2zM838 110h1v1h-1zM839 111h2v1h-2zM841 112h2v1h-2zM843 113h1v1h-1zM844 114h2v1h-2zM846 115h1v1h-1zM847 116h1v1h-1zM848 117h2v1h-2zM850 118h1v1h-1zM851 119h1v1h-1zM852 120h2v1h-2zM854 121h1v1h-1zM855 122h1v1h-1zM856 123h2v1h-2zM858 124h1v1h-1zM859 125h2v1h-2zM861 126h2v1h-2zM863 127h1v1h-1zM864 128h2v1h-2zM866 129h1v1h-1zM867 130h1v1h-1zM868 131h2v1h-2zM870 132h1v1h-1zM871 133h2v1h-2zM873 134h2v1h-2zM875 135h2v1h-2zM877 136h3v1h-3zM880 137h4v1h-4zM884 138h3v1h-3zM887 139h2v1h-2zM889 140h2v1h-2zM891 141h2v1h-2zM893 142h2v1h-2zM895 143h2v1h-2zM897 144h2v1h-2zM899 145h2v1h-2zM901 146h2v1h-2zM903 147h2v1h-2zM905 148h2v1h-2zM907 149h1v1h-1zM908 150h2v1h-2zM910 151h1v1h-1zM911 152h2v1h-2zM913 153h2v1h-2zM915 154h1v1h-1zM916 155h2v1h-2zM918 156h1v1h-1zM919 157h2v1h-2zM921 158h2v1h-2zM923 159h1v1h-1zM924 160h2v1h-2zM926 161h1v1h-1zM927 162h2v1h-2zM929 163h2v1h-2zM931 164h1v1h-1zM932 165h2v1h-2zM934 166h1v1h-1zM935 167h1v1h-1zM936 168h1v1h-1zM937 169h1v1h-1zM938 170h1v1h-1zM939 171h1v1h-1zM940 172h2v1h-2zM942 173h1v1h-1zM943 174h2v1h-2zM945 175h3v1h-3zM948 176h3v1h-3zM951 177h2v1h-2zM953 178h3v1h-3zM956 179h8v1h-8zM964 180h7v1h-7zM971 181h1v1h-1zM972 182h2v1h-2zM974 183h1v1h-1zM975 184h2v1h-2zM977 185h2v1h-2zM979 186h1v1h-1zM980 187h1v2h-1zM981 189h1v1h-1zM982 190h1v1h-1zM983 191h1v1h-1zM984 192h1v2h-1zM985 194h1v1h-1zM986 195h1v1h-1zM987 196h1v1h-1zM988 197h1v2h-1zM989 199h1v1h-1zM990 200h1v1h-1zM991 201h1v2h-1zM992 203h1v1h-1zM993 204h1v2h-1zM994 206h1v1h-1zM995 207h1v2h-1zM996 209h1v2h-1zM997 211h1v2h-1zM998 213h1v2h-1zM999 215h1v2h-1zM1000 217h1v2h-1zM1001 219h1v2h-1zM1002 221h1v3h-1zM1003 224h1v2h-1zM1004 226h1v2h-1zM1005 228h1v2h-1zM1006 230h1v3h-1zM1007 233h1v2h-1zM1008 235h1v2h-1zM1009 237h1v2h-1zM1010 239h1v3h-1zM1011 242h1v2h-1zM1012 244h1v2h-1zM1013 246h1v2h-1zM1014 248h1v3h-1zM1015 251h1v2h-1zM1016 253h1v2h-1zM1017 255h1v2h-1zM1018 257h1v2h-1zM1019 259h1v2h-1zM1020 261h1v2h-1zM1021 263h1v2h-1zM1022 265h1v2h-1zM1023 267h1v2h-1zM1024 269h1v2h-1zM1025 271h1v2h-1zM1026 273h1v1h-1zM1027 274h1v2h-1zM1028 276h1v1h-1zM1029 277h1v2h-1zM1030 279h1v1h-1zM1031 280h1v1h-1zM1032 281h1v2h-1zM1033 283h1v1h-1zM1034 284h1v1h-1zM1035 285h1v1h-1zM1036 286h1v1h-1zM1037 287h1v1h-1zM1038 288h1v1h-1zM1039 289h1v1h-1zM1040 290h1v2h-1zM1041 292h1v1h-1zM1042 293h1v1h-1zM1043 294h1v1h-1zM1044 295h1v1h-1zM1045 296h1v1h-1zM1046 297h1v1h-1zM1047 298h1v1h-1zM1048 299h1v2h-1zM1049 301h1v1h-1zM1050 302h1v1h-1zM1051 303h1v1h-1zM1052 304h1v2h-1zM1053 306h1v1h-1zM1054 307h1v1h-1zM1055 308h1v1h-1zM1056 309h1v2h-1zM1057 311h1v1h-1zM1058 312h1v1h-1zM1059 313h1v1h-1zM1060 314h1v2h-1zM1061 316h1v1h-1zM1062 317h1v1h-1zM1063 318h1v1h-1zM1064 319h1v1h-1zM1065 320h1v1h-1zM1066 321h1v1h-1zM1067 322h1v1h-1zM1068 323h1v1h-1zM1069 324h1v1h-1zM1070 325h1v1h-1zM1071 326h1v1h-1zM1072 327h1v1h-1zM1073 328h1v1h-1zM1074 329h1v1h-1zM1075 330h1v1h-1zM1076 331h2v1h-2zM1078 332h1v1h-1zM1079 333h1v1h-1zM1080 334h2v1h-2zM1082 335h1v1h-1zM1083 336h1v1h-1zM1084 337h2v1h-2zM1086 338h1v1h-1zM1087 339h2v1h-2zM1089 340h3v1h-3zM1092 341h3v1h-3zM1095 342h2v1h-2zM1097 343h6v1h-6zM1103 342h2v1h-2zM1105 341h2v1h-2zM1107 340h1v1h-1zM1108 339h2v1h-2zM1110 338h1v1h-1zM1111 337h2v1h-2zM1113 336h2v1h-2zM1115 335h1v1h-1zM1116 334h2v1h-2zM1118 333h1v1h-1zM1119 332h1v1h-1zM1120 330h1v2h-1zM1121 329h1v1h-1zM1122 328h1v1h-1zM1123 327h1v1h-1zM1124 325h1v2h-1zM1125 324h1v1h-1zM1126 323h1v1h-1zM1127 321h1v2h-1zM1128 320h1v1h-1zM1129 318h1v2h-1zM1130 317h1v1h-1zM1131 315h1v2h-1zM1132 314h1v1h-1zM1133 312h1v2h-1zM1134 311h1v1h-1zM1135 309h1v2h-1zM1136 307h1v2h-1zM1137 305h1v2h-1zM1138 304h1v1h-1zM1139 303h1v1h-1zM1140 301h1v2h-1zM1141 300h1v1h-1zM1142 299h1v1h-1zM1143 297h1v2h-1zM1144 296h1v1h-1zM1145 294h1v2h-1zM1146 293h1v1h-1zM1147 292h1v1h-1zM1148 290h1v2h-1zM1149 289h1v1h-1zM1150 288h1v1h-1zM1151 287h1v1h-1zM1152 286h2v1h-2zM1154 285h1v1h-1zM1155 284h2v1h-2zM1157 283h2v1h-2zM1159 282h2v1h-2zM1161 281h2v1h-2zM1163 280h1v1h-1zM1164 279h1v1h-1zM1165 278h1v1h-1zM1166 277h1v1h-1zM1167 276h1v1h-1zM1168 275h2v1h-2zM1170 274h1v1h-1zM1171 273h1v1h-1zM1172 272h1v1h-1zM1173 271h1v1h-1zM1174 270h1v1h-1zM1175 268h1v2h-1zM1176 267h1v1h-1zM1177 265h1v2h-1zM1178 264h1v1h-1zM1179 263h1v1h-1zM1180 261h1v2h-1zM1181 260h1v1h-1zM1182 259h1v1h-1zM1183 258h1v1h-1zM1184 257h1v1h-1zM1185 256h1v1h-1zM1186 255h1v1h-1zM1187 254h1v1h-1zM1188 253h2v1h-2zM1190 252h1v1h-1zM1191 251h2v1h-2zM1193 250h3v1h-3zM1196 249h4v1h-4zM1200 248h4v1h-4zM1204 247h7v1h-7z" fill="#0000cd"/>
<path d="M6 103h2v1h-2zM8 102h3v1h-3zM11 101h2v1h-2zM13 100h2v1h-2zM15 99h2v1h-2zM17 98h2v1h-2zM19 97h1v1h-1zM20 96h2v1h-2zM22 95h1v1h-1zM23 94h2v1h-2zM25 93h2v1h-2zM27 92h2v1h-2zM29 91h3v1h-3zM32 90h4v1h-4zM36 89h12v1h-12zM48 90h4v1h-4zM52 91h4v1h-4zM56 92h4v1h-4zM60 93h3v1h-3zM63 94h2v1h-2zM65 95h2v1h-2zM67 96h2v1h-2zM69 97h3v1h-3zM72 98h4v1h-4zM76 99h4v1h-4zM80 100h4v1h-4zM84 101h4v1h-4zM88 100h4v1h-4zM92 99h4v1h-4zM96 98h3v1h-3zM99 97h1v1h-1zM100 96h2v1h-2zM102 95h2v1h-2zM104 94h3v1h-3zM107 93h1v1h-1zM108 92h2v1h-2zM110 91h1v1h-1zM111 90h1v1h-1zM112 89h1v1h-1zM113 88h1v1h-1zM114 87h1v1h-1zM115 86h1v1h-1zM116 85h2v1h-2zM118 84h1v1h-1zM119 83h2v1h-2zM121 82h3v1h-3zM124 81h4v1h-4zM128 80h16v1h-16zM144 79h8v1h-8zM152 78h8v1h-8zM160 77h4v1h-4zM164 76h8v1h-8zM172 75h3v1h-3zM175 74h2v1h-2zM177 73h11v1h-11zM188 72h3v1h-3zM191 73h2v1h-2zM193 74h3v1h-3zM196 75h3v1h-3zM199 76h1v1h-1zM200 77h2v1h-2zM202 78h1v1h-1zM203 79h1v1h-1zM204 80h2v1h-2zM206 81h1v1h-1zM207 82h1v1h-1zM208 83h2v1h-2zM210 84h1v1h-1zM211 85h1v1h-1zM212 86h2v1h-2zM214 87h1v1h-1zM215 88h1v1h-1zM216 89h1v2h-1zM217 91h1v1h-1zM218 92h1v1h-1zM219 93h1v1h-1zM220 94h1v2h-1zM221 96h1v1h-1zM222 97h1v1h-1zM223 98h1v2h-1zM224 100h1v1h-1zM225 101h1v2h-1zM226 103h1v1h-1zM227 104h1v2h-1zM228 106h1v1h-1zM229 107h1v2h-1zM230 109h1v1h-1zM231 110h1v2h-1zM232 112h1v1h-1zM233 113h1v2h-1zM234 115h1v1h-1zM235 116h1v1h-1zM236 117h1v1h-1zM237 118h1v1h-1zM238 119h1v1h-1zM239 120h1v1h-1zM240 121h1v1h-1zM241 122h1v1h-1zM242 123h1v1h-1zM243 124h1v1h-1zM244 125h2v1h-2zM246 126h1v1h-1zM247 127h1v1h-1zM248 128h1v1h-1zM249 129h1v1h-1zM250 130h1v1h-1zM251 131h2v1h-2zM253 132h2v1h-2zM255 133h1v1h-1zM256 134h2v1h-2zM258 135h1v1h-1zM259 136h2v1h-2zM261 137h2v1h-2zM263 138h1v1h-1zM264 139h2v1h-2zM266 140h2v1h-2zM268 141h4v1h-4zM272 142h20v1h-20zM292 143h8v1h-8zM300 144h8v1h-8zM308 145h4v1h-4zM312 146h4v1h-4zM316 147h4v1h-4zM320 148h4v1h-4zM324 149h8v1h-8zM332 148h3v1h-3zM335 147h2v1h-2zM337 146h2v1h-2zM339 145h2v1h-2zM341 144h2v1h-2zM343 143h2v1h-2zM345 142h2v1h-2zM347 141h1v1h-1zM348 140h2v1h-2zM350 139h2v1h-2zM352 138h3v1h-3zM355 137h1v1h-1zM356 136h2v1h-2zM358 135h1v1h-1zM359 134h1v1h-1zM360 133h2v1h-2zM362 132h1v1h-1zM363 131h1v1h-1zM364 130h2v1h-2zM366 129h1v1h-1zM367 128h1v1h-1zM368 127h2v1h-2zM370 126h1v1h-1zM371 125h1v1h-1zM372 124h2v1h-2zM374 123h1v1h-1zM375 122h2v1h-2zM377 121h3v1h-3zM380 120h7v1h-7zM387 121h2v1h-2zM389 122h2v1h-2zM391 123h2v1h-2zM393 124h3v1h-3zM396 125h3v1h-3zM399 126h2v1h-2zM401 127h2v1h-2zM403 128h1v1h-1zM404 129h2v1h-2zM406 130h1v1h-1zM407 131h2v1h-2zM409 132h2v1h-2zM411 133h2v1h-2zM413 134h2v1h-2zM415 135h1v1h-1zM416 136h2v1h-2zM418 137h1v1h-1zM419 138h1v1h-1zM420 139h1v1h-1zM421 140h1v1h-1zM422 141h1v1h-1zM423 142h1v1h-1zM424 143h1v1h-1zM425 144h1v1h-1zM426 145h1v1h-1zM427 146h2v1h-2zM429 147h2v1h-2zM431 148h2v1h-2zM433 149h7v1h-7zM440 150h8v1h-8zM448 151h4v1h-4zM452 152h3v1h-3zM455 151h2v1h-2zM457 150h7v1h-7zM464 149h11v1h-11zM475 148h2v1h-2zM477 147h2v1h-2zM479 146h1v1h-1zM480 145h2v1h-2zM482 144h1v1h-1zM483 143h1v1h-1zM484 142h2v1h-2zM486 141h1v1h-1zM487 140h2v1h-2zM489 139h2v1h-2zM491 138h2v1h-2zM493 137h2v1h-2zM495 136h2v1h-2zM497 135h2v1h-2zM499 134h2v1h-2zM501 133h2v1h-2zM503 132h2v1h-2zM505 131h3v1h-3zM508 130h4v1h-4zM512 129h4v1h-4zM516 128h3v1h-3zM519 127h2v1h-2zM521 126h2v1h-2zM523 125h1v1h-1zM524 124h2v1h-2zM526 123h1v1h-1zM527 122h1v1h-1zM528 121h1v1h-1zM529 120h1v1h-1zM530 119h2v1h-2zM532 118h3v1h-3zM535 117h2v1h-2zM537 116h7v1h-7zM544 115h12v1h-12zM556 114h8v1h-8zM564 113h7v1h-7zM571 114h2v1h-2zM573 115h3v1h-3zM576 116h3v1h-3zM579 117h2v1h-2zM581 118h2v1h-2zM583 119h2v1h-2zM585 120h2v1h-2zM587 121h2v1h-2zM589 122h2v1h-2zM591 123h2v1h-2zM593 124h2v1h-2zM595 125h2v1h-2zM597 126h2v1h-2zM599 127h2v1h-2zM601 128h2v1h-2zM603 129h2v1h-2zM605 130h2v1h-2zM607 131h2v1h-2zM609 132h3v1h-3zM612 133h3v1h-3zM615 134h2v1h-2zM617 135h2v1h-2zM619 136h2v1h-2zM621 137h3v1h-3zM624 138h16v1h-16zM640 137h8v1h-8zM648 136h4v1h-4zM652 135h4v1h-4zM656 134h7v1h-7zM663 133h2v1h-2zM665 132h2v1h-2zM667 131h1v1h-1zM668 130h2v1h-2zM670 129h1v1h-1zM671 128h2v1h-2zM673 127h2v1h-2zM675 126h2v1h-2zM677 125h2v1h-2zM679 124h2v1h-2zM681 123h2v1h-2zM683 122h2v1h-2zM685 121h3v1h-3zM688 120h4v1h-4zM692 119h4v1h-4zM696 118h3v1h-3zM699 117h2v1h-2zM701 116h2v1h-2zM703 115h2v1h-2zM705 114h3v1h-3zM708 113h3v1h-3zM711 112h2v1h-2zM713 111h2v1h-2zM715 110h1v1h-1zM716 109h2v1h-2zM718 108h1v1h-1zM719 107h1v1h-1zM720 106h2v1h-2zM722 105h2v1h-2zM724 104h3v1h-3zM727 103h1v1h-1zM728 102h2v1h-2zM730 101h1v1h-1zM731 100h1v1h-1zM732 99h1v1h-1zM733 98h1v1h-1zM734 97h1v1h-1zM735 96h2v1h-2zM737 95h2v1h-2zM739 94h1v1h-1zM740 93h2v1h-2zM742 92h1v1h-1zM743 91h2v1h-2zM745 90h2v1h-2zM747 89h2v1h-2zM749 88h3v1h-3zM752 87h4v1h-4zM756 88h4v1h-4zM760 89h3v1h-3zM763 90h2v1h-2zM765 91h7v1h-7zM772 92h3v1h-3zM775 93h2v1h-2zM777 94h3v1h-3zM780 95h3v1h-3zM783 96h2v1h-2zM785 97h2v1h-2zM787 98h1v1h-1zM788 99h2v1h-2zM790 100h1v1h-1zM791 101h1v1h-1zM792 102h2v1h-2zM794 103h1v1h-1zM795 104h1v1h-1zM796 105h2v1h-2zM798 106h1v1h-1zM799 107h2v1h-2zM801 108h2v1h-2zM803 109h2v1h-2zM805 110h2v1h-2zM807 111h2v1h-2zM809 112h7v1h-7zM816 113h7v1h-7zM823 114h1v1h-1zM824 115h1v1h-1zM825 116h1v1h-1zM826 117h1v1h-1zM827 118h1v1h-1zM828 119h2v1h-2zM830 120h1v1h-1zM831 121h1v1h-1zM832 122h1v1h-1zM833 123h1v1h-1zM834 124h1v1h-1zM835 125h1v1h-1zM836 126h1v1h-1zM837 127h1v1h-1zM838 128h1v1h-1zM839 129h1v1h-1zM840 130h1v1h-1zM841 131h1v1h-1zM842 132h1v1h-1zM843 133h1v1h-1zM844 134h1v1h-1zM845 135h1v1h-1zM846 136h1v1h-1zM847 137h1v1h-1zM848 138h1v1h-1zM849 139h1v1h-1zM850 140h1v1h-1zM851 141h1v1h-1zM852 142h2v1h-2zM854 143h1v1h-1zM855 144h1v1h-1zM856 145h2v1h-2zM858 146h1v1h-1zM859 147h2v1h-2zM861 148h2v1h-2zM863 149h1v1h-1zM864 150h1v1h-1zM865 151h1v1h-1zM866 152h1v1h-1zM867 153h1v1h-1zM868 154h2v1h-2zM870 155h1v1h-1zM871 156h1v1h-1zM872 157h2v1h-2zM874 158h1v1h-1zM875 159h2v1h-2zM877 160h3v1h-3zM880 161h27v1h-27zM907 162h1v1h-1zM908 163h2v1h-2zM910 164h1v1h-1zM911 165h2v1h-2zM913 166h2v1h-2zM915 167h2v1h-2zM917 168h2v1h-2zM919 169h2v1h-2zM921 170h3v1h-3zM924 171h3v1h-3zM927 172h1v1h-1zM928 173h2v1h-2zM930 174h1v1h-1zM931 175h1v1h-1zM932 176h2v1h-2zM934 177h1v1h-1zM935 178h1v2h-1zM936 180h1v1h-1zM937 181h1v2h-1zM938 183h1v1h-1zM939 184h1v1h-1zM940 185h1v2h-1zM941 187h1v1h-1zM942 188h1v1h-1zM943 189h1v1h-1zM944 190h1v1h-1zM945 191h1v1h-1zM946 192h1v1h-1zM947 193h2v1h-2zM949 194h2v1h-2zM951 195h2v1h-2zM953 196h2v1h-2zM955 197h2v1h-2zM957 198h3v1h-3zM960 199h11v1h-11zM971 200h1v1h-1zM972 201h2v1h-2zM974 202h1v1h-1zM975 203h2v1h-2zM977 204h2v1h-2zM979 205h1v2h-1zM980 207h1v2h-1zM981 209h1v2h-1zM982 211h1v1h-1zM983 212h1v2h-1zM984 214h1v2h-1zM985 216h1v2h-1zM986 218h1v3h-1zM987 221h1v2h-1zM988 223h1v3h-1zM989 226h1v2h-1zM990 228h1v2h-1zM991 230h1v2h-1zM992 232h1v2h-1zM993 234h1v2h-1zM994 236h1v2h-1zM995 238h1v3h-1zM996 241h1v2h-1zM997 243h1v3h-1zM998 246h1v3h-1zM999 249h1v4h-1zM1000 253h1v4h-1zM1001 257h1v4h-1zM1002 261h1v3h-1zM1003 264h1v4h-1zM1004 268h1v4h-1zM1005 272h1v4h-1zM1006 276h1v5h-1zM1007 281h1v4h-1zM1008 285h1v4h-1zM1009 289h1v4h-1zM1010 293h1v5h-1zM1011 298h1v4h-1zM1012 302h1v4h-1zM1013 306h1v4h-1zM1014 310h1v5h-1zM1015 315h1v4h-1zM1016 319h1v5h-1zM1017 324h1v4h-1zM1018 328h1v4h-1zM1019 332h1v4h-1zM1020 336h1v4h-1zM1021 340h1v4h-1zM1022 344h1v3h-1zM1023 347h1v4h-1zM1024 351h1v4h-1zM1025 355h1v4h-1zM1026 359h1v3h-1zM1027 362h1v2h-1zM1028 364h1v2h-1zM1029 366h1v2h-1zM1030 368h1v2h-1zM1031 370h1v2h-1zM1032 372h1v2h-1zM1033 374h1v2h-1zM1034 376h1v2h-1zM1035 378h2v1h-2zM1037 379h7v1h-7zM1044 380h7v1h-7zM1051 379h2v1h-2zM1053 378h2v1h-2zM1055 377h1v1h-1zM1056 376h2v1h-2zM1058 375h1v1h-1zM1059 374h1v1h-1zM1060 373h2v1h-2zM1062 372h1v1h-1zM1063 370h1v2h-1zM1064 369h1v1h-1zM1065 367h1v2h-1zM1066 366h1v1h-1zM1067 364h1v2h-1zM1068 362h1v2h-1zM1069 360h1v2h-1zM1070 357h1v3h-1zM1071 355h1v2h-1zM1072 352h1v3h-1zM1073 350h1v2h-1zM1074 348h1v2h-1zM1075 346h1v2h-1zM1076 344h1v2h-1zM1077 342h1v2h-1zM1078 340h1v2h-1zM1079 338h1v2h-1zM1080 336h1v2h-1zM1081 334h1v2h-1zM1082 332h1v2h-1zM1083 330h1v2h-1zM1084 328h1v2h-1zM1085 326h1v2h-1zM1086 325h1v1h-1zM1087 324h1v1h-1zM1088 322h1v2h-1zM1089 321h1v1h-1zM1090 320h1v1h-1zM1091 319h1v1h-1zM1092 317h1v2h-1zM1093 316h1v1h-1zM1094 315h1v1h-1zM1095 314h1v1h-1zM1096 313h1v1h-1zM1097 312h1v1h-1zM1098 311h1v1h-1zM1099 310h1v1h-1zM1100 309h2v1h-2zM1102 308h1v1h-1zM1103 306h1v2h-1zM1104 305h1v1h-1zM1105 303h1v2h-1zM1106 302h1v1h-1zM1107 300h1v2h-1zM1108 299h1v1h-1zM1109 297h1v2h-1zM1110 295h1v2h-1zM1111 293h1v2h-1zM1112 291h1v2h-1zM1113 289h1v2h-1zM1114 287h1v2h-1zM1115 285h1v2h-1zM1116 284h1v1h-1zM1117 282h1v2h-1zM1118 281h1v1h-1zM1119 280h1v1h-1zM1120 279h1v1h-1zM1121 278h1v1h-1zM1122 277h1v1h-1zM1123 276h1v1h-1zM1124 274h1v2h-1zM1125 273h1v1h-1zM1126 272h1v1h-1zM1127 271h1v1h-1zM1128 270h2v1h-2zM1130 269h1v1h-1zM1131 268h2v1h-2zM1133 267h2v1h-2zM1135 266h2v1h-2zM1137 265h2v1h-2zM1139 264h1v1h-1zM1140 263h2v1h-2zM1142 262h1v1h-1zM1143 261h1v1h-1zM1144 260h2v1h-2zM1146 259h1v1h-1zM1147 258h1v1h-1zM1148 257h2v1h-2zM1150 256h1v1h-1zM1151 255h2v1h-2zM1153 254h2v1h-2zM1155 253h2v1h-2zM1157 252h3v1h-3zM1160 251h3v1h-3zM1163 250h2v1h-2zM1165 249h3v1h-3zM1168 248h3v1h-3zM1171 247h1v1h-1zM1172 245h1v2h-1zM1173 244h1v1h-1zM1174 243h1v1h-1zM1175 242h1v1h-1zM1176 241h1v1h-1zM1177 240h1v1h-1zM1178 239h1v1h-1zM1179 238h1v1h-1zM1180 237h2v1h-2zM1182 236h1v1h-1zM1183 235h2v1h-2zM1185 234h2v1h-2zM1187 233h1v1h-1zM1188 232h2v1h-2zM1190 231h6v1h-6zM1196 232h3v1h-3zM1199 233h1v1h-1zM1200 234h2v1h-2zM1202 235h1v1h-1zM1203 236h2v1h-2zM1205 237h6v1h-6z" fill="#ff0000"/>
<path d="M6 97h2v1h-2zM8 96h3v1h-3zM11 95h1v1h-1zM12 94h1v1h-1zM13 93h1v1h-1zM14 92h1v1h-1zM15 90h1v2h-1zM16 89h1v1h-1zM17 87h1v2h-1zM18 86h1v1h-1zM19 85h1v1h-1zM20 84h2v1h-2zM22 83h1v1h-1zM23 82h2v1h-2zM25 81h2v1h-2zM27 80h1v1h-1zM28 79h2v1h-2zM30 78h1v1h-1zM31 79h2v1h-2zM33 80h3v1h-3zM36 81h3v1h-3zM39 82h2v1h-2zM41 83h2v1h-2zM43 84h1v2h-1zM44 86h1v1h-1zM45 87h1v2h-1zM46 89h1v1h-1zM47 90h1v2h-1zM48 92h1v2h-1zM49 94h1v2h-1zM50 96h1v2h-1zM51 98h1v2h-1zM52 100h1v1h-1zM53 101h1v2h-1zM54 103h1v1h-1zM55 104h1v2h-1zM56 106h1v1h-1zM57 107h1v2h-1zM58 109h1v1h-1zM59 110h1v1h-1zM60 111h1v1h-1zM61 112h1v1h-1zM62 113h1v1h-1zM63 114h2v1h-2zM65 115h2v1h-2zM67 114h1v1h-1zM68 113h2v1h-2zM70 112h1v1h-1zM71 111h1v1h-1zM72 110h2v1h-2zM74 109h1v1h-1zM75 108h1v1h-1zM76 107h1v1h-1zM77 106h1v1h-1zM78 105h1v1h-1zM79 103h1v2h-1zM80 102h1v1h-1zM81 100h1v2h-1zM82 99h1v1h-1zM83 97h1v2h-1zM84 96h1v1h-1zM85 94h1v2h-1zM86 93h1v1h-1zM87 92h1v1h-1zM88 91h1v1h-1zM89 90h1v1h-1zM90 89h1v1h-1zM91 88h1v1h-1zM92 86h1v2h-1zM93 85h1v1h-1zM94 84h1v1h-1zM95 83h1v1h-1zM96 81h1v2h-1zM97 80h1v1h-1zM98 79h1v1h-1zM99 78h1v1h-1zM100 77h2v1h-2zM102 76h2v1h-2zM104 77h7v1h-7zM111 76h2v1h-2zM113 75h3v1h-3zM116 74h3v1h-3zM119 75h1v1h-1zM120 76h2v1h-2zM122 77h2v1h-2zM124 76h3v1h-3zM127 77h2v1h-2zM129 78h2v1h-2zM131 79h1v2h-1zM132 81h1v1h-1zM133 82h1v2h-1zM134 84h1v1h-1zM135 85h1v1h-1zM136 86h2v1h-2zM138 87h2v1h-2zM140 86h4v1h-4zM144 85h3v1h-3zM147 84h1v1h-1zM148 83h1v1h-1zM149 82h1v1h-1zM150 81h1v1h-1zM151 79h1v2h-1zM152 78h1v1h-1zM153 76h1v2h-1zM154 75h1v1h-1zM155 74h1v1h-1zM156 73h1v1h-1zM157 72h1v1h-1zM158 71h1v1h-1zM159 70h2v1h-2zM161 69h2v1h-2zM163 68h2v1h-2zM165 67h3v1h-3zM168 66h7v1h-7zM175 65h2v1h-2zM177 64h2v1h-2zM179 65h2v1h-2zM181 66h2v1h-2zM183 67h1v1h-1zM184 68h1v1h-1zM185 69h1v1h-1zM186 70h1v1h-1zM187 71h1v1h-1zM188 72h1v2h-1zM189 74h1v1h-1zM190 75h1v1h-1zM191 76h1v2h-1zM192 78h1v2h-1zM193 80h1v2h-1zM194 82h1v3h-1zM195 85h1v2h-1zM196 87h1v2h-1zM197 89h1v2h-1zM198 91h1v2h-1zM199 93h1v1h-1zM200 94h1v2h-1zM201 96h1v1h-1zM202 97h1v1h-1zM203 98h1v2h-1zM204 100h1v1h-1zM205 101h1v2h-1zM206 103h1v1h-1zM207 104h1v1h-1zM208 105h1v1h-1zM209 106h1v1h-1zM210 107h1v1h-1zM211 108h1v1h-1zM212 109h2v1h-2zM214 110h1v1h-1zM215 111h1v2h-1zM216 113h1v1h-1zM217 114h1v2h-1zM218 116h1v1h-1zM219 117h1v2h-1zM220 119h1v1h-1zM221 120h1v2h-1zM222 122h1v1h-1zM223 123h1v2h-1zM224 125h1v1h-1zM225 126h1v2h-1zM226 128h1v1h-1zM227 129h1v2h-1zM228 131h1v2h-1zM229 133h1v2h-1zM230 135h1v2h-1zM231 137h1v2h-1zM232 139h1v1h-1zM233 140h1v2h-1zM234 142h9v1h-9zM243 141h2v1h-2zM245 140h3v1h-3zM248 141h3v1h-3zM251 140h1v1h-1zM252 139h2v1h-2zM254 138h1v1h-1zM255 139h1v1h-1zM256 140h1v2h-1zM257 142h1v1h-1zM258 143h6v1h-6zM264 144h3v1h-3zM267 143h2v1h-2zM269 142h3v1h-3zM272 143h3v1h-3zM275 142h2v1h-2zM277 141h3v1h-3zM280 140h4v1h-4zM284 141h3v1h-3zM287 142h1v1h-1zM288 143h2v1h-2zM290 144h2v1h-2zM292 145h7v1h-7zM299 146h2v1h-2zM301 147h3v1h-3zM304 148h4v1h-4zM308 149h3v1h-3zM311 150h2v1h-2zM313 151h2v1h-2zM315 152h1v1h-1zM316 153h2v1h-2zM318 154h1v1h-1zM319 155h1v1h-1zM320 156h2v1h-2zM322 157h2v1h-2zM324 156h3v1h-3zM327 155h1v1h-1zM328 154h1v1h-1zM329 153h1v1h-1zM330 152h1v1h-1zM331 150h1v2h-1zM332 149h1v1h-1zM333 147h1v2h-1zM334 146h1v1h-1zM335 144h1v2h-1zM336 142h1v2h-1zM337 140h1v2h-1zM338 138h1v2h-1zM339 136h1v2h-1zM340 134h1v2h-1zM341 132h1v2h-1zM342 130h1v2h-1zM343 128h1v2h-1zM344 126h1v2h-1zM345 124h1v2h-1zM346 123h1v1h-1zM347 122h1v1h-1zM348 121h1v1h-1zM349 120h1v1h-1zM350 119h1v1h-1zM351 118h2v1h-2zM353 117h3v1h-3zM356 116h3v1h-3zM359 115h2v1h-2zM361 114h7v1h-7zM368 113h4v1h-4zM372 114h4v1h-4zM376 115h3v1h-3zM379 116h1v2h-1zM380 118h1v1h-1zM381 119h1v2h-1zM382 121h1v1h-1zM383 122h1v2h-1zM384 124h1v2h-1zM385 126h1v2h-1zM386 128h1v1h-1zM387 129h1v2h-1zM388 131h1v1h-1zM389 132h1v2h-1zM390 134h1v1h-1zM391 135h1v1h-1zM392 136h1v2h-1zM393 138h1v1h-1zM394 139h1v1h-1zM395 140h1v1h-1zM396 141h2v1h-2zM398 142h1v1h-1zM399 143h1v1h-1zM400 144h2v1h-2zM402 145h2v1h-2zM404 146h4v1h-4zM408 145h4v1h-4zM412 146h3v1h-3zM415 147h1v1h-1zM416 148h2v1h-2zM418 149h1v1h-1zM419 150h1v1h-1zM420 151h2v1h-2zM422 152h1v1h-1zM423 153h1v1h-1zM424 154h2v1h-2zM426 155h2v1h-2zM428 156h4v1h-4zM432 155h4v1h-4zM436 154h3v1h-3zM439 153h1v1h-1zM440 152h2v1h-2zM442 151h2v1h-2zM444 150h4v1h-4zM448 151h7v1h-7zM455 150h2v1h-2zM457 149h2v1h-2zM459 148h1v1h-1zM460 147h1v1h-1zM461 146h1v1h-1zM462 145h1v1h-1zM463 144h2v1h-2zM465 143h2v1h-2zM467 142h2v1h-2zM469 141h3v1h-3zM472 142h4v1h-4zM476 141h3v1h-3zM479 140h1v1h-1zM480 139h2v1h-2zM482 138h1v1h-1zM483 137h1v1h-1zM484 135h1v2h-1zM485 134h1v1h-1zM486 133h1v1h-1zM487 131h1v2h-1zM488 130h1v1h-1zM489 128h1v2h-1zM490 127h1v1h-1zM491 125h1v2h-1zM492 123h1v2h-1zM493 121h1v2h-1zM494 120h2v1h-2zM496 119h3v1h-3zM499 120h2v1h-2zM501 121h3v1h-3zM504 122h3v1h-3zM507 123h1v1h-1zM508 124h2v1h-2zM510 125h2v1h-2zM512 126h4v1h-4zM516 125h3v1h-3zM519 124h1v1h-1zM520 123h2v1h-2zM522 122h1v1h-1zM523 121h1v1h-1zM524 120h1v1h-1zM525 119h1v1h-1zM526 118h1v1h-1zM527 116h1v2h-1zM528 115h1v1h-1zM529 113h1v2h-1zM530 112h1v1h-1zM531 111h1v1h-1zM532 110h1v1h-1zM533 109h1v1h-1zM534 108h1v1h-1zM535 107h2v1h-2zM537 106h3v1h-3zM540 105h7v1h-7zM547 106h1v1h-1zM548 107h2v1h-2zM550 108h1v1h-1zM551 109h1v1h-1zM552 110h2v1h-2zM554 111h1v1h-1zM555 112h1v1h-1zM556 113h2v1h-2zM558 114h1v1h-1zM559 115h2v1h-2zM561 116h2v1h-2zM563 117h1v1h-1zM564 118h2v1h-2zM566 119h1v1h-1zM567 120h2v1h-2zM569 121h2v1h-2zM571 122h1v2h-1zM572 124h1v1h-1zM573 125h1v2h-1zM574 127h1v1h-1zM575 128h2v1h-2zM577 129h2v1h-2zM579 130h2v1h-2zM581 131h3v1h-3zM584 132h8v1h-8zM592 131h4v1h-4zM596 132h3v1h-3zM599 133h2v1h-2zM601 134h2v1h-2zM603 135h2v1h-2zM605 136h2v1h-2zM607 137h1v1h-1zM608 138h2v1h-2zM610 139h2v1h-2zM612 140h4v1h-4zM616 141h4v1h-4zM620 142h4v1h-4zM624 143h4v1h-4zM628 144h3v1h-3zM631 143h2v1h-2zM633 142h2v1h-2zM635 141h1v1h-1zM636 140h1v1h-1zM637 139h1v1h-1zM638 138h1v1h-1zM639 137h1v1h-1zM640 135h1v2h-1zM641 134h1v1h-1zM642 133h1v1h-1zM643 132h1v1h-1zM644 131h2v1h-2zM646 130h1v1h-1zM647 129h1v1h-1zM648 127h1v2h-1zM649 126h1v1h-1zM650 125h2v1h-2zM652 124h7v1h-7zM659 125h1v1h-1zM660 126h2v1h-2zM662 127h1v1h-1zM663 126h2v1h-2zM665 125h2v1h-2zM667 124h1v1h-1zM668 123h1v1h-1zM669 122h1v1h-1zM670 121h1v1h-1zM671 120h2v1h-2zM673 119h2v1h-2zM675 118h2v1h-2zM677 117h2v1h-2zM679 116h1v1h-1zM680 114h1v2h-1zM681 113h1v1h-1zM682 112h5v1h-5zM687 113h1v1h-1zM688 114h2v1h-2zM690 115h2v1h-2zM692 114h3v1h-3zM695 113h2v1h-2zM697 112h6v1h-6zM703 111h1v1h-1zM704 110h1v1h-1zM705 109h1v1h-1zM706 108h1v1h-1zM707 107h1v1h-1zM708 106h1v1h-1zM709 105h1v1h-1zM710 104h1v1h-1zM711 103h1v1h-1zM712 102h2v1h-2zM714 101h1v1h-1zM715 100h2v1h-2zM717 99h2v1h-2zM719 98h1v1h-1zM720 96h1v2h-1zM721 95h1v1h-1zM722 94h1v1h-1zM723 93h1v1h-1zM724 92h2v1h-2zM726 91h1v1h-1zM727 90h1v1h-1zM728 89h1v1h-1zM729 88h1v1h-1zM730 87h1v1h-1zM731 85h1v2h-1zM732 83h1v2h-1zM733 81h1v2h-1zM734 80h1v1h-1zM735 79h1v1h-1zM736 78h1v1h-1zM737 77h1v1h-1zM738 76h2v1h-2zM740 75h4v1h-4zM744 76h3v1h-3zM747 77h2v1h-2zM749 78h2v1h-2zM751 79h1v2h-1zM752 81h1v1h-1zM753 82h1v2h-1zM754 84h1v2h-1zM755 86h1v2h-1zM756 88h1v2h-1zM757 90h1v2h-1zM758 92h1v3h-1zM759 95h1v2h-1zM760 97h1v2h-1zM761 99h1v2h-1zM762 101h1v2h-1zM763 103h1v2h-1zM764 105h1v1h-1zM765 106h1v2h-1zM766 108h1v1h-1zM767 109h1v1h-1zM768 110h2v1h-2zM770 111h2v1h-2zM772 112h3v1h-3zM775 111h2v1h-2zM777 110h2v1h-2zM779 109h1v1h-1zM780 108h2v1h-2zM782 107h1v1h-1zM783 106h1v1h-1zM784 105h2v1h-2zM786 104h5v1h-5zM791 105h2v1h-2zM793 106h2v1h-2zM795 107h2v1h-2zM797 108h2v1h-2zM799 109h2v1h-2zM801 110h2v1h-2zM803 111h1v1h-1zM804 112h2v1h-2zM806 113h1v1h-1zM807 114h1v1h-1zM808 115h1v1h-1zM809 116h1v1h-1zM810 117h2v1h-2zM812 118h3v1h-3zM815 119h1v1h-1zM816 120h2v1h-2zM818 121h1v1h-1zM819 122h1v1h-1zM820 123h2v1h-2zM822 124h1v1h-1zM823 125h1v2h-1zM824 127h1v1h-1zM825 128h1v2h-1zM826 130h1v1h-1zM827 131h1v1h-1zM828 132h1v2h-1zM829 134h1v1h-1zM830 135h1v1h-1zM831 136h1v2h-1zM832 138h1v2h-1zM833 140h1v2h-1zM834 142h1v1h-1zM835 143h1v2h-1zM836 145h1v2h-1zM837 147h1v2h-1zM838 149h1v1h-1zM839 150h1v2h-1zM840 152h1v2h-1zM841 154h1v2h-1zM842 156h1v2h-1zM843 158h1v1h-1zM844 159h2v1h-2zM846 160h1v1h-1zM847 161h1v1h-1zM848 162h2v1h-2zM850 163h2v1h-2zM852 164h3v1h-3zM855 163h1v1h-1zM856 162h2v1h-2zM858 161h1v1h-1zM859 160h1v1h-1zM860 159h2v1h-2zM862 158h2v1h-2zM864 159h3v1h-3zM867 160h2v1h-2zM869 161h2v1h-2zM871 162h2v1h-2zM873 163h2v1h-2zM875 164h2v1h-2zM877 165h3v1h-3zM880 164h3v1h-3zM883 163h1v1h-1zM884 162h2v1h-2zM886 161h1v1h-1zM887 160h2v1h-2zM889 159h2v1h-2zM891 158h2v1h-2zM893 157h6v1h-6zM899 158h1v1h-1zM900 159h1v1h-1zM901 160h1v1h-1zM902 161h1v1h-1zM903 162h1v1h-1zM904 163h2v1h-2zM906 164h1v1h-1zM907 165h1v2h-1zM908 167h1v1h-1zM909 168h1v2h-1zM910 170h1v1h-1zM911 171h1v1h-1zM912 172h1v2h-1zM913 174h1v1h-1zM914 175h1v1h-1zM915 176h1v1h-1zM916 177h1v2h-1zM917 179h1v1h-1zM918 180h1v1h-1zM919 181h1v1h-1zM920 182h1v1h-1zM921 183h1v1h-1zM922 184h1v1h-1zM923 185h1v1h-1zM924 186h1v1h-1zM925 187h1v1h-1zM926 188h1v1h-1zM927 189h1v1h-1zM928 190h1v2h-1zM929 192h1v1h-1zM930 193h1v1h-1zM931 194h1v1h-1zM932 195h2v1h-2zM934 196h1v2h-1zM935 198h1v2h-1zM936 200h1v3h-1zM937 203h1v2h-1zM938 205h1v2h-1zM939 207h1v2h-1zM940 209h1v1h-1zM941 210h1v2h-1zM942 212h1v1h-1zM943 213h1v1h-1zM944 214h1v2h-1zM945 216h1v1h-1zM946 217h1v1h-1zM947 216h1v1h-1zM948 215h1v1h-1zM949 214h1v1h-1zM950 213h2v1h-2zM952 212h2v1h-2zM954 211h1v2h-1zM955 209h1v2h-1zM956 207h1v2h-1zM957 205h1v2h-1zM958 203h1v2h-1zM959 201h1v2h-1zM960 200h1v1h-1zM961 198h1v2h-1zM962 197h1v1h-1zM963 195h1v2h-1zM964 193h1v2h-1zM965 191h1v2h-1zM966 189h1v2h-1zM967 188h2v1h-2zM969 187h2v1h-2zM971 188h1v2h-1zM972 190h1v2h-1zM973 192h1v2h-1zM974 194h1v2h-1zM975 196h1v1h-1zM976 197h1v2h-1zM977 199h1v1h-1zM978 200h1v3h-1zM979 203h1v5h-1zM980 208h1v6h-1zM981 214h1v5h-1zM982 219h1v6h-1zM983 225h1v7h-1zM984 232h1v8h-1zM985 240h1v7h-1zM986 247h1v7h-1zM987 254h1v8h-1zM988 262h1v7h-1zM989 269h1v8h-1zM990 277h1v6h-1zM991 283h1v5h-1zM992 288h1v5h-1zM993 293h1v5h-1zM994 298h1v6h-1zM995 304h1v8h-1zM996 312h1v8h-1zM997 320h1v8h-1zM998 328h1v8h-1zM999 336h1v7h-1zM1000 343h1v7h-1zM1001 350h1v7h-1zM1002 357h1v6h-1zM1003 363h1v4h-1zM1004 367h1v5h-1zM1005 372h1v4h-1zM1006 376h1v5h-1zM1007 381h1v4h-1zM1008 385h1v5h-1zM1009 390h1v4h-1zM1010 394h1v5h-1zM1011 399h1v5h-1zM1012 404h1v5h-1zM1013 409h1v5h-1zM1014 414h1v4h-1zM1015 418h1v3h-1zM1016 421h1v4h-1zM1017 425h1v3h-1zM1018 428h1v2h-1zM1019 427h1v2h-1zM1020 425h1v2h-1zM1021 423h1v2h-1zM1022 422h1v1h-1zM1023 420h1v2h-1zM1024 419h1v1h-1zM1025 417h1v2h-1zM1026 415h1v2h-1zM1027 412h1v3h-1zM1028 409h1v3h-1zM1029 406h1v3h-1zM1030 402h1v4h-1zM1031 397h1v5h-1zM1032 392h1v5h-1zM1033 387h1v5h-1zM1034 381h1v6h-1zM1035 375h1v6h-1zM1036 368h1v7h-1zM1037 362h1v6h-1zM1038 357h1v5h-1zM1039 354h1v3h-1zM1040 350h1v4h-1zM1041 347h1v3h-1zM1042 344h1v3h-1zM1043 341h1v3h-1zM1044 339h1v2h-1zM1045 336h1v3h-1zM1046 334h1v2h-1zM1047 333h1v1h-1zM1048 332h2v1h-2zM1050 331h1v1h-1zM1051 332h1v1h-1zM1052 333h1v2h-1zM1053 335h1v1h-1zM1054 336h1v2h-1zM1055 338h1v3h-1zM1056 341h1v2h-1zM1057 343h1v3h-1zM1058 346h1v3h-1zM1059 349h1v2h-1zM1060 351h1v3h-1zM1061 354h1v2h-1zM1062 356h1v2h-1zM1063 358h2v1h-2zM1065 359h2v1h-2zM1067 358h1v1h-1zM1068 356h1v2h-1zM1069 355h1v1h-1zM1070 353h1v2h-1zM1071 351h1v2h-1zM1072 348h1v3h-1zM1073 346h1v2h-1zM1074 342h1v4h-1zM1075 337h1v5h-1zM1076 333h1v4h-1zM1077 328h1v5h-1zM1078 323h1v5h-1zM1079 318h1v5h-1zM1080 312h1v6h-1zM1081 307h1v5h-1zM1082 303h1v4h-1zM1083 299h1v4h-1zM1084 295h1v4h-1zM1085 291h1v4h-1zM1086 288h1v3h-1zM1087 285h1v3h-1zM1088 282h1v3h-1zM1089 279h1v3h-1zM1090 276h1v3h-1zM1091 273h1v3h-1zM1092 271h1v2h-1zM1093 268h1v3h-1zM1094 266h1v2h-1zM1095 266h1v1h-1zM1096 265h3v1h-3zM1099 266h2v1h-2zM1101 267h6v1h-6zM1107 268h2v1h-2zM1109 269h3v1h-3zM1112 270h3v1h-3zM1115 271h1v1h-1zM1116 272h2v1h-2zM1118 273h2v1h-2zM1120 272h3v1h-3zM1123 271h2v1h-2zM1125 270h3v1h-3zM1128 269h6v1h-6zM1134 268h1v2h-1zM1135 265h1v3h-1zM1136 263h1v2h-1zM1137 260h1v3h-1zM1138 257h1v3h-1zM1139 255h1v2h-1zM1140 252h1v3h-1zM1141 250h1v2h-1zM1142 247h1v3h-1zM1143 245h1v2h-1zM1144 243h1v2h-1zM1145 241h1v2h-1zM1146 238h1v3h-1zM1147 236h1v2h-1zM1148 234h1v2h-1zM1149 232h1v2h-1zM1150 230h1v2h-1zM1151 229h2v1h-2zM1153 228h2v1h-2zM1155 229h1v1h-1zM1156 230h2v1h-2zM1158 231h1v1h-1zM1159 232h1v1h-1zM1160 233h1v2h-1zM1161 235h1v1h-1zM1162 236h1v1h-1zM1163 237h1v1h-1zM1164 238h1v2h-1zM1165 240h1v1h-1zM1166 241h1v1h-1zM1167 242h1v2h-1zM1168 244h1v1h-1zM1169 245h1v2h-1zM1170 247h1v1h-1zM1171 246h1v1h-1zM1172 244h1v2h-1zM1173 243h1v1h-1zM1174 242h1v1h-1zM1175 240h1v2h-1zM1176 238h1v2h-1zM1177 236h1v2h-1zM1178 234h1v2h-1zM1179 232h1v2h-1zM1180 230h1v2h-1zM1181 228h1v2h-1zM1182 227h5v1h-5zM1187 225h1v2h-1zM1188 224h1v1h-1zM1189 222h1v2h-1zM1190 221h1v1h-1zM1191 222h2v1h-2zM1193 223h2v1h-2zM1195 224h1v2h-1zM1196 226h1v2h-1zM1197 228h1v2h-1zM1198 230h1v2h-1zM1199 232h1v2h-1zM1200 234h1v2h-1zM1201 236h1v2h-1zM1202 238h1v1h-1zM1203 239h1v1h-1zM1204 240h2v1h-2zM1206 241h1v1h-1zM1207 242h1v1h-1zM1208 243h1v1h-1zM1209 244h1v1h-1zM1210 245h1v1h-1z" fill="#ffa500"/>
<rect x="6" y="44" width="1515" height="2" fill="#ff0000"/>
<rect x="5" y="42" width="6" height="6" fill="#ff0000"/>
<rect x="7" y="44" width="2" height="2" fill="#fff"/>
<rect x="1515" y="42" width="6" height="6" fill="#ff0000"/>
<rect x="1517" y="44" width="2" height="2" fill="#fff"/>
<rect x="6" y="97" width="1515" height="2" fill="#ff0000"/>
<rect x="5" y="95" width="6" height="6" fill="#ff0000"/>
<rect x="7" y="97" width="2" height="2" fill="#fff"/>
<rect x="1515" y="95" width="6" height="6" fill="#ff0000"/>
<rect x="1517" y="97" width="2" height="2" fill="#fff"/>
<rect x="6" y="163" width="1515" height="2" fill="#ff0000"/>
<rect x="5" y="161" width="6" height="6" fill="#ff0000"/>
<rect x="7" y="163" width="2" height="2" fill="#fff"/>
<rect x="1515" y="161" width="6" height="6" fill="#ff0000"/>
<rect x="1517" y="163" width="2" height="2" fill="#fff"/>
<rect x="6" y="222" width="1515" height="2" fill="#00ff00"/>
<rect x="5" y="220" width="6" height="6" fill="#00ff00"/>
<rect x="7" y="222" width="2" height="2" fill="#fff"/>
<rect x="1515" y="220" width="6" height="6" fill="#00ff00"/>
<rect x="1517" y="222" width="2" height="2" fill="#fff"/>
<rect x="6" y="242" width="1515" height="1" fill="#c0c0c0"/>
<rect x="6" y="282" width="1515" height="2" fill="#0000ff"/>
<rect x="5" y="280" width="6" height="6" fill="#0000ff"/>
<rect x="7" y="282" width="2" height="2" fill="#fff"/>
<rect x="1515" y="280" width="6" height="6" fill="#0000ff"/>
<rect x="1517" y="282" width="2" height="2" fill="#fff"/>
<rect x="6" y="340" width="1515" height="2" fill="#0000ff"/>
<rect x="1522" y="33" width="2" height="1" fill="#000"/>
<text x="1527" y="37" font-size="10.2" fill="#000" stroke="#000" stroke-width="0.15" textLength="33.0" lengthAdjust="spacingAndGlyphs">0.71400</text>
<rect x="1522" y="66" width="2" height="1" fill="#000"/>
<text x="1527" y="70" font-size="10.2" fill="#000" stroke="#000" stroke-width="0.15" textLength="33.0" lengthAdjust="spacingAndGlyphs">0.70290</text>
<rect x="1522" y="99" width="2" height="1" fill="#000"/>
<rect x="1522" y="132" width="2" height="1" fill="#000"/>
<text x="1527" y="136" font-size="10.2" fill="#000" stroke="#000" stroke-width="0.15" textLength="33.0" lengthAdjust="spacingAndGlyphs">0.68100</text>
<rect x="1522" y="165" width="2" height="1" fill="#000"/>
<rect x="1522" y="198" width="2" height="1" fill="#000"/>
<text x="1527" y="202" font-size="10.2" fill="#000" stroke="#000" stroke-width="0.15" textLength="33.0" lengthAdjust="spacingAndGlyphs">0.65880</text>
<rect x="1522" y="231" width="2" height="1" fill="#000"/>
<text x="1527" y="235" font-size="10.2" fill="#000" stroke="#000" stroke-width="0.15" textLength="33.0" lengthAdjust="spacingAndGlyphs">0.64770</text>
<rect x="1522" y="264" width="2" height="1" fill="#000"/>
<text x="1527" y="268" font-size="10.2" fill="#000" stroke="#000" stroke-width="0.15" textLength="33.0" lengthAdjust="spacingAndGlyphs">0.63660</text>
<rect x="1522" y="297" width="2" height="1" fill="#000"/>
<text x="1527" y="301" font-size="10.2" fill="#000" stroke="#000" stroke-width="0.15" textLength="33.0" lengthAdjust="spacingAndGlyphs">0.62550</text>
<rect x="1522" y="330" width="2" height="1" fill="#000"/>
<text x="1527" y="334" font-size="10.2" fill="#000" stroke="#000" stroke-width="0.15" textLength="33.0" lengthAdjust="spacingAndGlyphs">0.61440</text>
<rect x="1522" y="363" width="2" height="1" fill="#000"/>
<text x="1527" y="367" font-size="10.2" fill="#000" stroke="#000" stroke-width="0.15" textLength="33.0" lengthAdjust="spacingAndGlyphs">0.60330</text>
<rect x="1522" y="396" width="2" height="1" fill="#000"/>
<text x="1527" y="400" font-size="10.2" fill="#000" stroke="#000" stroke-width="0.15" textLength="33.0" lengthAdjust="spacingAndGlyphs">0.59220</text>
<rect x="1522" y="429" width="2" height="1" fill="#000"/>
<text x="1527" y="433" font-size="10.2" fill="#000" stroke="#000" stroke-width="0.15" textLength="33.0" lengthAdjust="spacingAndGlyphs">0.58110</text>
<rect x="1522" y="462" width="2" height="1" fill="#000"/>
<text x="1527" y="466" font-size="10.2" fill="#000" stroke="#000" stroke-width="0.15" textLength="33.0" lengthAdjust="spacingAndGlyphs">0.57000</text>
<rect x="1522" y="495" width="2" height="1" fill="#000"/>
<text x="1527" y="499" font-size="10.2" fill="#000" stroke="#000" stroke-width="0.15" textLength="33.0" lengthAdjust="spacingAndGlyphs">0.55890</text>
<rect x="1522" y="528" width="2" height="1" fill="#000"/>
<text x="1527" y="532" font-size="10.2" fill="#000" stroke="#000" stroke-width="0.15" textLength="33.0" lengthAdjust="spacingAndGlyphs">0.54780</text>
<rect x="1523" y="39" width="41" height="11" fill="#ff0000"/>
<text x="1527" y="48" font-size="10.2" fill="#fff" stroke="#fff" stroke-width="0.15" textLength="33.0" lengthAdjust="spacingAndGlyphs">0.71016</text>
<rect x="1523" y="92" width="41" height="11" fill="#ff0000"/>
<text x="1527" y="101" font-size="10.2" fill="#fff" stroke="#fff" stroke-width="0.15" textLength="33.0" lengthAdjust="spacingAndGlyphs">0.69218</text>
<rect x="1523" y="158" width="41" height="11" fill="#ff0000"/>
<text x="1527" y="167" font-size="10.2" fill="#fff" stroke="#fff" stroke-width="0.15" textLength="33.0" lengthAdjust="spacingAndGlyphs">0.67003</text>
<rect x="1523" y="217" width="41" height="11" fill="#00ff00"/>
<text x="1527" y="226" font-size="10.2" fill="#fff" stroke="#fff" stroke-width="0.15" textLength="33.0" lengthAdjust="spacingAndGlyphs">0.65024</text>
<rect x="1523" y="237" width="41" height="11" fill="#000"/>
<text x="1527" y="246" font-size="10.2" fill="#fff" stroke="#fff" stroke-width="0.15" textLength="33.0" lengthAdjust="spacingAndGlyphs">0.64391</text>
<rect x="1523" y="277" width="41" height="11" fill="#0000ff"/>
<text x="1527" y="286" font-size="10.2" fill="#fff" stroke="#fff" stroke-width="0.15" textLength="33.0" lengthAdjust="spacingAndGlyphs">0.63011</text>
<rect x="1523" y="335" width="41" height="11" fill="#0000ff"/>
<text x="1527" y="344" font-size="10.2" fill="#fff" stroke="#fff" stroke-width="0.15" textLength="33.0" lengthAdjust="spacingAndGlyphs">0.61065</text>
<polygon points="9,33 16.5,33 12.75,37" fill="#000"/>
<text x="22" y="38" font-size="9.8" fill="#000" stroke="#000" stroke-width="0.15" textLength="64.8" lengthAdjust="spacingAndGlyphs">AUDUSD,Daily</text>
<text x="93.5" y="38" font-size="9.8" fill="#000" stroke="#000" stroke-width="0.15" textLength="31.8" lengthAdjust="spacingAndGlyphs">0.64231</text>
<text x="129.4" y="38" font-size="9.8" fill="#000" stroke="#000" stroke-width="0.15" textLength="31.8" lengthAdjust="spacingAndGlyphs">0.64410</text>
<text x="165.3" y="38" font-size="9.8" fill="#000" stroke="#000" stroke-width="0.15" textLength="31.8" lengthAdjust="spacingAndGlyphs">0.64191</text>
<text x="201.2" y="38" font-size="9.8" fill="#000" stroke="#000" stroke-width="0.15" textLength="31.8" lengthAdjust="spacingAndGlyphs">0.64391</text>
<line x1="8" x2="1521" y1="561.5" y2="561.5" stroke="#c0c0c0" stroke-width="1" stroke-dasharray="3,3"/>
<rect x="1522" y="561" width="2" height="1" fill="#000"/>
<line x1="8" x2="1521" y1="597.5" y2="597.5" stroke="#c0c0c0" stroke-width="1" stroke-dasharray="3,3"/>
<rect x="1522" y="597" width="2" height="1" fill="#000"/>
<rect x="1522" y="535" width="1" height="1" fill="#000"/>
<path d="M6 581h1v1h-1zM7 580h1v1h-1zM8 579h1v1h-1zM9 578h1v1h-1zM10 577h2v1h-2zM12 576h1v1h-1zM13 575h1v1h-1zM14 574h1v1h-1zM15 573h1v1h-1zM16 574h1v1h-1zM17 575h1v1h-1zM18 576h1v1h-1zM19 575h2v1h-2zM21 574h2v1h-2zM23 573h2v1h-2zM25 572h2v1h-2zM27 571h2v1h-2zM29 572h2v1h-2zM31 573h1v2h-1zM32 575h1v2h-1zM33 577h1v2h-1zM34 579h1v1h-1zM35 580h2v1h-2zM37 581h2v1h-2zM39 582h2v1h-2zM41 583h2v1h-2zM43 584h1v1h-1zM44 585h1v1h-1zM45 586h1v1h-1zM46 587h1v2h-1zM47 589h1v1h-1zM48 590h1v1h-1zM49 591h1v1h-1zM50 592h2v1h-2zM52 593h2v1h-2zM54 594h3v1h-3zM57 595h2v1h-2zM59 594h2v1h-2zM61 593h2v1h-2zM63 592h4v1h-4zM67 591h1v2h-1zM68 589h1v2h-1zM69 586h1v3h-1zM70 584h1v2h-1zM71 582h1v2h-1zM72 582h1v1h-1zM73 581h4v1h-4zM77 580h2v1h-2zM79 578h1v2h-1zM80 577h1v1h-1zM81 575h1v2h-1zM82 573h1v2h-1zM83 572h2v1h-2zM85 571h2v1h-2zM87 570h3v1h-3zM90 569h3v1h-3zM93 568h3v1h-3zM96 567h2v1h-2zM98 566h3v1h-3zM101 565h1v1h-1zM102 565h1v2h-1zM103 567h1v3h-1zM104 570h1v4h-1zM105 574h1v3h-1zM106 577h1v2h-1zM107 577h1v1h-1zM108 576h1v1h-1zM109 575h1v1h-1zM110 574h1v1h-1zM111 572h1v2h-1zM112 571h1v1h-1zM113 570h1v1h-1zM114 569h1v1h-1zM115 568h1v1h-1zM116 569h2v1h-2zM118 570h1v2h-1zM119 572h1v2h-1zM120 574h1v2h-1zM121 576h1v2h-1zM122 578h1v2h-1zM123 579h2v1h-2zM125 578h3v1h-3zM128 579h2v1h-2zM130 580h2v1h-2zM132 581h1v1h-1zM133 582h1v2h-1zM134 584h1v1h-1zM135 585h1v1h-1zM136 583h1v2h-1zM137 581h1v2h-1zM138 580h1v1h-1zM139 579h1v1h-1zM140 578h2v1h-2zM142 577h1v1h-1zM143 576h1v1h-1zM144 575h2v1h-2zM146 574h1v1h-1zM147 573h2v1h-2zM149 572h2v1h-2zM151 571h2v1h-2zM153 570h2v1h-2zM155 571h2v1h-2zM157 572h2v1h-2zM159 573h4v1h-4zM163 572h2v1h-2zM165 571h2v1h-2zM167 570h11v1h-11zM178 570h1v2h-1zM179 572h1v2h-1zM180 574h1v2h-1zM181 576h1v2h-1zM182 578h1v2h-1zM183 580h1v1h-1zM184 581h1v1h-1zM185 582h1v1h-1zM186 583h1v2h-1zM187 585h1v1h-1zM188 586h1v1h-1zM189 587h1v1h-1zM190 588h1v1h-1zM191 589h1v1h-1zM192 590h1v2h-1zM193 592h1v1h-1zM194 593h9v1h-9zM203 594h1v1h-1zM204 595h2v1h-2zM206 596h1v1h-1zM207 597h1v1h-1zM208 596h1v1h-1zM209 595h2v1h-2zM211 594h1v1h-1zM212 595h2v1h-2zM214 596h2v1h-2zM216 597h1v1h-1zM217 598h1v2h-1zM218 600h1v1h-1zM219 601h2v1h-2zM221 602h3v1h-3zM224 603h3v1h-3zM227 604h3v1h-3zM230 605h3v1h-3zM233 606h1v1h-1zM234 605h1v2h-1zM235 601h1v4h-1zM236 598h1v3h-1zM237 594h1v4h-1zM238 592h1v2h-1zM239 593h2v1h-2zM241 594h7v1h-7zM248 595h1v1h-1zM249 596h1v1h-1zM250 597h1v1h-1zM251 598h1v1h-1zM252 596h1v2h-1zM253 594h1v2h-1zM254 592h1v2h-1zM255 590h1v2h-1zM256 591h1v1h-1zM257 592h1v2h-1zM258 594h1v1h-1zM259 595h1v1h-1zM260 593h1v2h-1zM261 591h1v2h-1zM262 589h1v2h-1zM263 588h9v1h-9zM272 589h2v1h-2zM274 590h3v1h-3zM277 589h2v1h-2zM279 588h2v1h-2zM281 587h2v1h-2zM283 588h2v1h-2zM285 589h1v1h-1zM286 590h2v1h-2zM288 591h7v1h-7zM295 590h1v1h-1zM296 589h1v1h-1zM297 588h1v1h-1zM298 587h1v1h-1zM299 586h1v1h-1zM300 587h2v1h-2zM302 588h2v1h-2zM304 589h2v1h-2zM306 590h2v1h-2zM308 591h3v1h-3zM311 592h8v1h-8zM319 593h2v1h-2zM321 594h2v1h-2zM323 592h1v2h-1zM324 590h1v2h-1zM325 588h1v2h-1zM326 586h1v2h-1zM327 584h1v2h-1zM328 582h1v2h-1zM329 580h1v2h-1zM330 578h1v2h-1zM331 577h1v1h-1zM332 576h1v1h-1zM333 575h1v1h-1zM334 573h1v2h-1zM335 572h1v1h-1zM336 571h1v1h-1zM337 570h1v1h-1zM338 569h1v1h-1zM339 570h2v1h-2zM341 571h2v1h-2zM343 570h2v1h-2zM345 569h2v1h-2zM347 568h2v1h-2zM349 569h2v1h-2zM351 570h3v1h-3zM354 571h3v1h-3zM357 570h2v1h-2zM359 569h3v1h-3zM362 568h2v1h-2zM364 569h2v1h-2zM366 570h1v1h-1zM367 571h2v1h-2zM369 572h2v1h-2zM371 573h2v1h-2zM373 574h3v1h-3zM376 575h1v1h-1zM377 576h2v1h-2zM379 577h1v1h-1zM380 578h1v1h-1zM381 579h1v2h-1zM382 581h1v2h-1zM383 583h1v2h-1zM384 585h1v1h-1zM385 586h1v1h-1zM386 587h1v1h-1zM387 588h1v1h-1zM388 589h1v1h-1zM389 590h2v1h-2zM391 589h1v1h-1zM392 588h2v1h-2zM394 587h1v1h-1zM395 586h1v1h-1zM396 585h2v1h-2zM398 584h1v1h-1zM399 585h1v1h-1zM400 586h1v1h-1zM401 587h1v2h-1zM402 589h1v1h-1zM403 590h1v1h-1zM404 589h2v1h-2zM406 588h2v1h-2zM408 587h4v1h-4zM412 588h4v1h-4zM416 589h1v1h-1zM417 590h1v1h-1zM418 591h1v1h-1zM419 592h1v2h-1zM420 594h1v1h-1zM421 595h1v1h-1zM422 596h1v1h-1zM423 597h2v1h-2zM425 596h2v1h-2zM427 595h1v2h-1zM428 592h1v3h-1zM429 590h1v2h-1zM430 587h1v3h-1zM431 585h1v2h-1zM432 584h2v1h-2zM434 583h2v1h-2zM436 582h2v1h-2zM438 581h1v1h-1zM439 582h1v1h-1zM440 583h1v2h-1zM441 585h1v1h-1zM442 586h2v1h-2zM444 587h2v1h-2zM446 588h3v1h-3zM449 587h3v1h-3zM452 585h1v2h-1zM453 583h1v2h-1zM454 582h1v1h-1zM455 580h1v2h-1zM456 578h1v2h-1zM457 576h1v2h-1zM458 575h5v1h-5zM463 576h1v1h-1zM464 577h1v1h-1zM465 578h1v1h-1zM466 579h1v1h-1zM467 580h2v1h-2zM469 581h2v1h-2zM471 582h2v1h-2zM473 583h1v1h-1zM474 582h1v2h-1zM475 580h1v2h-1zM476 578h1v2h-1zM477 576h1v2h-1zM478 574h1v2h-1zM479 572h1v2h-1zM480 571h1v1h-1zM481 570h2v1h-2zM483 569h1v1h-1zM484 568h11v1h-11zM495 569h1v1h-1zM496 570h1v1h-1zM497 571h1v1h-1zM498 572h1v2h-1zM499 574h1v1h-1zM500 575h1v1h-1zM501 576h1v1h-1zM502 577h2v1h-2zM504 576h3v1h-3zM507 577h2v1h-2zM509 578h2v1h-2zM511 577h1v1h-1zM512 576h1v1h-1zM513 575h2v1h-2zM515 574h1v1h-1zM516 573h1v1h-1zM517 572h1v1h-1zM518 571h2v1h-2zM520 570h2v1h-2zM522 569h2v1h-2zM524 568h2v1h-2zM526 567h1v1h-1zM527 566h2v1h-2zM529 565h2v1h-2zM531 564h2v1h-2zM533 565h2v1h-2zM535 566h3v1h-3zM538 567h3v1h-3zM541 568h4v1h-4zM545 569h4v1h-4zM549 570h2v1h-2zM551 571h1v2h-1zM552 573h1v2h-1zM553 575h1v2h-1zM554 577h2v1h-2zM556 578h2v1h-2zM558 579h2v1h-2zM560 580h5v1h-5zM565 581h4v1h-4zM569 582h1v1h-1zM570 583h1v1h-1zM571 584h1v2h-1zM572 586h1v3h-1zM573 589h1v4h-1zM574 593h1v2h-1zM575 592h1v2h-1zM576 590h1v2h-1zM577 589h1v1h-1zM578 587h1v2h-1zM579 585h1v2h-1zM580 584h7v1h-7zM587 583h2v1h-2zM589 582h2v1h-2zM591 583h1v1h-1zM592 584h1v1h-1zM593 585h1v1h-1zM594 586h2v1h-2zM596 587h2v1h-2zM598 588h3v1h-3zM601 589h2v1h-2zM603 590h3v1h-3zM606 591h4v1h-4zM610 592h2v1h-2zM612 591h1v1h-1zM613 590h1v1h-1zM614 589h1v1h-1zM615 588h1v1h-1zM616 589h2v1h-2zM618 590h2v1h-2zM620 591h2v1h-2zM622 592h9v1h-9zM631 591h1v2h-1zM632 588h1v3h-1zM633 585h1v3h-1zM634 582h1v3h-1zM635 580h1v2h-1zM636 578h1v2h-1zM637 576h1v2h-1zM638 574h1v2h-1zM639 573h1v1h-1zM640 572h1v1h-1zM641 571h2v1h-2zM643 570h1v1h-1zM644 571h1v2h-1zM645 573h1v2h-1zM646 575h1v2h-1zM647 577h1v2h-1zM648 577h2v1h-2zM650 576h2v1h-2zM652 575h2v1h-2zM654 574h2v1h-2zM656 575h2v1h-2zM658 576h2v1h-2zM660 577h1v2h-1zM661 579h1v2h-1zM662 581h1v1h-1zM663 579h1v2h-1zM664 577h1v2h-1zM665 575h1v2h-1zM666 574h1v1h-1zM667 572h1v2h-1zM668 570h1v2h-1zM669 568h1v2h-1zM670 567h1v1h-1zM671 568h1v1h-1zM672 569h1v1h-1zM673 570h1v1h-1zM674 571h2v1h-2zM676 572h3v1h-3zM679 571h1v1h-1zM680 570h2v1h-2zM682 569h1v1h-1zM683 570h1v2h-1zM684 572h1v2h-1zM685 574h1v2h-1zM686 576h3v1h-3zM689 575h4v1h-4zM693 574h1v1h-1zM694 573h1v1h-1zM695 572h2v1h-2zM697 571h1v1h-1zM698 570h1v1h-1zM699 569h1v1h-1zM700 570h2v1h-2zM702 571h2v1h-2zM704 570h2v1h-2zM706 569h1v1h-1zM707 568h2v1h-2zM709 567h2v1h-2zM711 566h1v1h-1zM712 567h2v1h-2zM714 568h2v1h-2zM716 567h1v1h-1zM717 566h1v1h-1zM718 565h1v1h-1zM719 563h1v2h-1zM720 562h1v1h-1zM721 561h1v1h-1zM722 560h1v1h-1zM723 561h1v1h-1zM724 562h2v1h-2zM726 563h1v1h-1zM727 562h1v1h-1zM728 561h2v1h-2zM730 560h1v1h-1zM731 559h1v1h-1zM732 558h2v1h-2zM734 557h1v1h-1zM735 558h2v1h-2zM737 559h1v1h-1zM738 560h1v1h-1zM739 561h2v1h-2zM741 562h1v2h-1zM742 564h1v2h-1zM743 566h1v2h-1zM744 568h1v2h-1zM745 570h1v2h-1zM746 572h1v2h-1zM747 573h2v1h-2zM749 574h3v1h-3zM752 575h1v2h-1zM753 577h1v2h-1zM754 579h1v2h-1zM755 581h1v1h-1zM756 582h1v2h-1zM757 584h1v2h-1zM758 586h1v2h-1zM759 588h2v1h-2zM761 589h4v1h-4zM765 590h2v1h-2zM767 588h1v2h-1zM768 586h1v2h-1zM769 584h1v2h-1zM770 582h1v2h-1zM771 580h1v2h-1zM772 580h8v1h-8zM780 581h4v1h-4zM784 580h3v1h-3zM787 581h1v1h-1zM788 582h2v1h-2zM790 583h1v1h-1zM791 584h1v1h-1zM792 585h2v1h-2zM794 586h8v1h-8zM802 587h2v1h-2zM804 588h2v1h-2zM806 589h2v1h-2zM808 590h1v1h-1zM809 591h2v1h-2zM811 592h1v1h-1zM812 591h2v1h-2zM814 590h1v1h-1zM815 591h1v1h-1zM816 592h2v1h-2zM818 593h2v1h-2zM820 594h3v1h-3zM823 595h1v2h-1zM824 597h1v2h-1zM825 599h1v2h-1zM826 601h3v1h-3zM829 602h4v1h-4zM833 603h2v1h-2zM835 604h2v1h-2zM837 605h2v1h-2zM839 606h2v1h-2zM841 607h5v1h-5zM846 606h4v1h-4zM850 605h1v2h-1zM851 603h1v2h-1zM852 601h1v2h-1zM853 599h1v2h-1zM854 597h1v2h-1zM855 596h1v1h-1zM856 595h1v1h-1zM857 594h2v1h-2zM859 593h1v1h-1zM860 592h1v1h-1zM861 593h2v1h-2zM863 594h1v1h-1zM864 595h1v1h-1zM865 596h1v2h-1zM866 598h1v1h-1zM867 599h2v1h-2zM869 600h4v1h-4zM873 599h2v1h-2zM875 598h1v2h-1zM876 596h1v2h-1zM877 593h1v3h-1zM878 591h1v2h-1zM879 589h1v2h-1zM880 588h1v1h-1zM881 586h1v2h-1zM882 585h1v1h-1zM883 584h1v1h-1zM884 585h2v1h-2zM886 586h2v1h-2zM888 587h2v1h-2zM890 588h2v1h-2zM892 589h4v1h-4zM896 588h3v1h-3zM899 589h1v1h-1zM900 590h2v1h-2zM902 591h1v1h-1zM903 592h1v1h-1zM904 593h2v1h-2zM906 594h1v1h-1zM907 595h1v2h-1zM908 597h1v1h-1zM909 598h1v2h-1zM910 600h1v1h-1zM911 599h2v1h-2zM913 598h8v1h-8zM921 599h2v1h-2zM923 600h2v1h-2zM925 601h2v1h-2zM927 602h1v1h-1zM928 603h1v1h-1zM929 604h1v1h-1zM930 605h1v1h-1zM931 606h1v1h-1zM932 604h1v2h-1zM933 602h1v2h-1zM934 601h1v1h-1zM935 602h1v2h-1zM936 604h1v2h-1zM937 606h1v2h-1zM938 607h1v2h-1zM939 605h1v2h-1zM940 603h1v2h-1zM941 600h1v3h-1zM942 598h1v2h-1zM943 596h1v2h-1zM944 596h2v1h-2zM946 595h1v2h-1zM947 592h1v3h-1zM948 588h1v4h-1zM949 585h1v3h-1zM950 583h1v2h-1zM951 583h1v1h-1zM952 582h3v1h-3zM955 583h2v1h-2zM957 584h2v1h-2zM959 583h1v1h-1zM960 582h2v1h-2zM962 581h2v1h-2zM964 580h2v1h-2zM966 579h3v1h-3zM969 578h1v1h-1zM970 578h1v2h-1zM971 580h1v4h-1zM972 584h1v4h-1zM973 588h1v4h-1zM974 592h1v3h-1zM975 593h1v1h-1zM976 592h1v1h-1zM977 591h1v1h-1zM978 590h1v2h-1zM979 592h1v2h-1zM980 594h1v3h-1zM981 597h1v2h-1zM982 599h1v2h-1zM983 601h1v1h-1zM984 602h2v1h-2zM986 603h1v1h-1zM987 604h6v1h-6zM993 605h2v1h-2zM995 606h1v1h-1zM996 607h2v1h-2zM998 608h1v1h-1zM999 609h1v1h-1zM1000 610h2v1h-2zM1002 611h2v1h-2zM1004 610h3v1h-3zM1007 609h10v1h-10zM1017 610h2v1h-2zM1019 608h1v3h-1zM1020 604h1v4h-1zM1021 599h1v5h-1zM1022 596h1v3h-1zM1023 596h1v1h-1zM1024 595h2v1h-2zM1026 594h2v1h-2zM1028 593h1v1h-1zM1029 591h1v2h-1zM1030 590h1v1h-1zM1031 589h1v1h-1zM1032 587h1v2h-1zM1033 586h1v1h-1zM1034 585h1v1h-1zM1035 584h1v1h-1zM1036 583h1v1h-1zM1037 582h1v1h-1zM1038 581h1v1h-1zM1039 580h1v1h-1zM1040 581h2v1h-2zM1042 582h2v1h-2zM1044 583h3v1h-3zM1047 584h3v1h-3zM1050 585h2v1h-2zM1052 586h2v1h-2zM1054 587h2v1h-2zM1056 588h2v1h-2zM1058 589h6v1h-6zM1064 587h1v2h-1zM1065 586h1v1h-1zM1066 584h1v2h-1zM1067 583h1v1h-1zM1068 581h1v2h-1zM1069 580h1v1h-1zM1070 578h1v2h-1zM1071 577h1v1h-1zM1072 576h2v1h-2zM1074 575h2v1h-2zM1076 574h1v1h-1zM1077 573h2v1h-2zM1079 572h1v1h-1zM1080 571h2v1h-2zM1082 570h4v1h-4zM1086 569h3v1h-3zM1089 568h2v1h-2zM1091 567h2v1h-2zM1093 566h2v1h-2zM1095 567h1v2h-1zM1096 569h1v1h-1zM1097 570h1v2h-1zM1098 572h1v1h-1zM1099 573h2v1h-2zM1101 574h2v1h-2zM1103 575h1v1h-1zM1104 574h1v1h-1zM1105 573h2v1h-2zM1107 572h6v1h-6zM1113 571h2v1h-2zM1115 572h1v2h-1zM1116 574h1v2h-1zM1117 576h1v2h-1zM1118 578h1v1h-1zM1119 577h2v1h-2zM1121 576h2v1h-2zM1123 575h1v1h-1zM1124 574h1v1h-1zM1125 573h2v1h-2zM1127 572h2v1h-2zM1129 573h7v1h-7zM1136 572h1v1h-1zM1137 571h1v1h-1zM1138 570h1v1h-1zM1139 569h1v1h-1zM1140 568h1v1h-1zM1141 567h2v1h-2zM1143 566h2v1h-2zM1145 565h2v1h-2zM1147 564h1v1h-1zM1148 565h2v1h-2zM1150 566h1v1h-1zM1151 567h1v2h-1zM1152 569h1v2h-1zM1153 571h1v2h-1zM1154 573h1v2h-1zM1155 575h2v1h-2zM1157 576h7v1h-7zM1164 575h1v1h-1zM1165 574h1v1h-1zM1166 573h1v1h-1zM1167 572h1v1h-1zM1168 573h1v1h-1zM1169 574h1v1h-1zM1170 575h1v1h-1zM1171 576h1v1h-1zM1172 574h1v2h-1zM1173 572h1v2h-1zM1174 570h1v2h-1zM1175 569h3v1h-3zM1178 568h3v1h-3zM1181 569h2v1h-2zM1183 570h1v1h-1zM1184 571h1v1h-1zM1185 572h1v2h-1zM1186 574h1v1h-1zM1187 573h2v1h-2zM1189 572h2v1h-2zM1191 573h1v1h-1zM1192 574h1v1h-1zM1193 575h2v1h-2zM1195 576h1v1h-1zM1196 577h1v1h-1zM1197 578h1v1h-1zM1198 579h2v1h-2zM1200 580h5v1h-5zM1205 579h2v1h-2zM1207 578h2v1h-2zM1209 577h2v1h-2z" fill="#1e90ff"/>
<text x="10.2" y="546" font-size="9.8" fill="#000" stroke="#000" stroke-width="0.15" textLength="67.6" lengthAdjust="spacingAndGlyphs">RSI(14) 52.2809</text>
<text x="1525.8" y="544" font-size="10.2" fill="#000" stroke="#000" stroke-width="0.15" textLength="14.2" lengthAdjust="spacingAndGlyphs">100</text>
<text x="1525.8" y="565" font-size="10.2" fill="#000" stroke="#000" stroke-width="0.15" textLength="8.6" lengthAdjust="spacingAndGlyphs">70</text>
<text x="1525.8" y="601" font-size="10.2" fill="#000" stroke="#000" stroke-width="0.15" textLength="8.6" lengthAdjust="spacingAndGlyphs">30</text>
<text x="1525.8" y="622" font-size="10.2" fill="#000" stroke="#000" stroke-width="0.15" textLength="4.2" lengthAdjust="spacingAndGlyphs">0</text>
<rect x="6" y="653" width="1" height="6" fill="#c0c0c0"/>
<rect x="10" y="653" width="1" height="6" fill="#c0c0c0"/>
<rect x="14" y="653" width="1" height="6" fill="#c0c0c0"/>
<rect x="18" y="653" width="1" height="4" fill="#c0c0c0"/>
<rect x="22" y="653" width="1" height="2" fill="#c0c0c0"/>
<rect x="26" y="653" width="1" height="2" fill="#c0c0c0"/>
<rect x="30" y="653" width="1" height="1" fill="#c0c0c0"/>
<rect x="34" y="653" width="1" height="1" fill="#c0c0c0"/>
<rect x="38" y="653" width="1" height="1" fill="#c0c0c0"/>
<rect x="42" y="653" width="1" height="1" fill="#c0c0c0"/>
<rect x="46" y="653" width="1" height="2" fill="#c0c0c0"/>
<rect x="50" y="653" width="1" height="2" fill="#c0c0c0"/>
<rect x="54" y="653" width="1" height="4" fill="#c0c0c0"/>
<rect x="58" y="653" width="1" height="6" fill="#c0c0c0"/>
<rect x="62" y="653" width="1" height="7" fill="#c0c0c0"/>
<rect x="66" y="653" width="1" height="7" fill="#c0c0c0"/>
<rect x="70" y="653" width="1" height="6" fill="#c0c0c0"/>
<rect x="74" y="653" width="1" height="5" fill="#c0c0c0"/>
<rect x="78" y="653" width="1" height="5" fill="#c0c0c0"/>
<rect x="82" y="653" width="1" height="3" fill="#c0c0c0"/>
<rect x="86" y="653" width="1" height="2" fill="#c0c0c0"/>
<rect x="90" y="653" width="1" height="1" fill="#c0c0c0"/>
<rect x="94" y="652" width="1" height="2" fill="#c0c0c0"/>
<rect x="98" y="651" width="1" height="3" fill="#c0c0c0"/>
<rect x="102" y="651" width="1" height="3" fill="#c0c0c0"/>
<rect x="106" y="650" width="1" height="4" fill="#c0c0c0"/>
<rect x="110" y="650" width="1" height="4" fill="#c0c0c0"/>
<rect x="114" y="649" width="1" height="5" fill="#c0c0c0"/>
<rect x="118" y="648" width="1" height="6" fill="#c0c0c0"/>
<rect x="122" y="649" width="1" height="5" fill="#c0c0c0"/>
<rect x="126" y="649" width="1" height="5" fill="#c0c0c0"/>
<rect x="130" y="649" width="1" height="5" fill="#c0c0c0"/>
<rect x="134" y="649" width="1" height="5" fill="#c0c0c0"/>
<rect x="138" y="649" width="1" height="5" fill="#c0c0c0"/>
<rect x="142" y="649" width="1" height="5" fill="#c0c0c0"/>
<rect x="146" y="649" width="1" height="5" fill="#c0c0c0"/>
<rect x="150" y="649" width="1" height="5" fill="#c0c0c0"/>
<rect x="154" y="649" width="1" height="5" fill="#c0c0c0"/>
<rect x="158" y="649" width="1" height="5" fill="#c0c0c0"/>
<rect x="162" y="648" width="1" height="6" fill="#c0c0c0"/>
<rect x="166" y="648" width="1" height="6" fill="#c0c0c0"/>
<rect x="170" y="648" width="1" height="6" fill="#c0c0c0"/>
<rect x="174" y="648" width="1" height="6" fill="#c0c0c0"/>
<rect x="178" y="648" width="1" height="6" fill="#c0c0c0"/>
<rect x="182" y="648" width="1" height="6" fill="#c0c0c0"/>
<rect x="186" y="649" width="1" height="5" fill="#c0c0c0"/>
<rect x="190" y="651" width="1" height="3" fill="#c0c0c0"/>
<rect x="194" y="652" width="1" height="2" fill="#c0c0c0"/>
<rect x="198" y="653" width="1" height="1" fill="#c0c0c0"/>
<rect x="202" y="653" width="1" height="3" fill="#c0c0c0"/>
<rect x="206" y="653" width="1" height="4" fill="#c0c0c0"/>
<rect x="210" y="653" width="1" height="6" fill="#c0c0c0"/>
<rect x="214" y="653" width="1" height="8" fill="#c0c0c0"/>
<rect x="218" y="653" width="1" height="9" fill="#c0c0c0"/>
<rect x="222" y="653" width="1" height="11" fill="#c0c0c0"/>
<rect x="226" y="653" width="1" height="12" fill="#c0c0c0"/>
<rect x="230" y="653" width="1" height="14" fill="#c0c0c0"/>
<rect x="234" y="653" width="1" height="15" fill="#c0c0c0"/>
<rect x="238" y="653" width="1" height="15" fill="#c0c0c0"/>
<rect x="242" y="653" width="1" height="15" fill="#c0c0c0"/>
<rect x="246" y="653" width="1" height="15" fill="#c0c0c0"/>
<rect x="250" y="653" width="1" height="15" fill="#c0c0c0"/>
<rect x="254" y="653" width="1" height="15" fill="#c0c0c0"/>
<rect x="258" y="653" width="1" height="15" fill="#c0c0c0"/>
<rect x="262" y="653" width="1" height="14" fill="#c0c0c0"/>
<rect x="266" y="653" width="1" height="14" fill="#c0c0c0"/>
<rect x="270" y="653" width="1" height="13" fill="#c0c0c0"/>
<rect x="274" y="653" width="1" height="13" fill="#c0c0c0"/>
<rect x="278" y="653" width="1" height="12" fill="#c0c0c0"/>
<rect x="282" y="653" width="1" height="12" fill="#c0c0c0"/>
<rect x="286" y="653" width="1" height="11" fill="#c0c0c0"/>
<rect x="290" y="653" width="1" height="11" fill="#c0c0c0"/>
<rect x="294" y="653" width="1" height="10" fill="#c0c0c0"/>
<rect x="298" y="653" width="1" height="10" fill="#c0c0c0"/>
<rect x="302" y="653" width="1" height="9" fill="#c0c0c0"/>
<rect x="306" y="653" width="1" height="9" fill="#c0c0c0"/>
<rect x="310" y="653" width="1" height="9" fill="#c0c0c0"/>
<rect x="314" y="653" width="1" height="8" fill="#c0c0c0"/>
<rect x="318" y="653" width="1" height="8" fill="#c0c0c0"/>
<rect x="322" y="653" width="1" height="7" fill="#c0c0c0"/>
<rect x="326" y="653" width="1" height="7" fill="#c0c0c0"/>
<rect x="330" y="653" width="1" height="6" fill="#c0c0c0"/>
<rect x="334" y="653" width="1" height="5" fill="#c0c0c0"/>
<rect x="338" y="653" width="1" height="3" fill="#c0c0c0"/>
<rect x="342" y="653" width="1" height="2" fill="#c0c0c0"/>
<rect x="346" y="653" width="1" height="1" fill="#c0c0c0"/>
<rect x="350" y="652" width="1" height="2" fill="#c0c0c0"/>
<rect x="354" y="651" width="1" height="3" fill="#c0c0c0"/>
<rect x="358" y="650" width="1" height="4" fill="#c0c0c0"/>
<rect x="362" y="649" width="1" height="5" fill="#c0c0c0"/>
<rect x="366" y="649" width="1" height="5" fill="#c0c0c0"/>
<rect x="370" y="649" width="1" height="5" fill="#c0c0c0"/>
<rect x="374" y="649" width="1" height="5" fill="#c0c0c0"/>
<rect x="378" y="649" width="1" height="5" fill="#c0c0c0"/>
<rect x="382" y="649" width="1" height="5" fill="#c0c0c0"/>
<rect x="386" y="649" width="1" height="5" fill="#c0c0c0"/>
<rect x="390" y="651" width="1" height="3" fill="#c0c0c0"/>
<rect x="394" y="652" width="1" height="2" fill="#c0c0c0"/>
<rect x="398" y="653" width="1" height="1" fill="#c0c0c0"/>
<rect x="402" y="653" width="1" height="2" fill="#c0c0c0"/>
<rect x="406" y="653" width="1" height="3" fill="#c0c0c0"/>
<rect x="410" y="653" width="1" height="3" fill="#c0c0c0"/>
<rect x="414" y="653" width="1" height="4" fill="#c0c0c0"/>
<rect x="418" y="653" width="1" height="5" fill="#c0c0c0"/>
<rect x="422" y="653" width="1" height="6" fill="#c0c0c0"/>
<rect x="426" y="653" width="1" height="7" fill="#c0c0c0"/>
<rect x="430" y="653" width="1" height="7" fill="#c0c0c0"/>
<rect x="434" y="653" width="1" height="7" fill="#c0c0c0"/>
<rect x="438" y="653" width="1" height="6" fill="#c0c0c0"/>
<rect x="442" y="653" width="1" height="6" fill="#c0c0c0"/>
<rect x="446" y="653" width="1" height="6" fill="#c0c0c0"/>
<rect x="450" y="653" width="1" height="6" fill="#c0c0c0"/>
<rect x="454" y="653" width="1" height="5" fill="#c0c0c0"/>
<rect x="458" y="653" width="1" height="5" fill="#c0c0c0"/>
<rect x="462" y="653" width="1" height="4" fill="#c0c0c0"/>
<rect x="466" y="653" width="1" height="4" fill="#c0c0c0"/>
<rect x="470" y="653" width="1" height="3" fill="#c0c0c0"/>
<rect x="474" y="653" width="1" height="2" fill="#c0c0c0"/>
<rect x="478" y="653" width="1" height="2" fill="#c0c0c0"/>
<rect x="482" y="653" width="1" height="1" fill="#c0c0c0"/>
<rect x="486" y="652" width="1" height="2" fill="#c0c0c0"/>
<rect x="490" y="651" width="1" height="3" fill="#c0c0c0"/>
<rect x="494" y="650" width="1" height="4" fill="#c0c0c0"/>
<rect x="498" y="650" width="1" height="4" fill="#c0c0c0"/>
<rect x="502" y="649" width="1" height="5" fill="#c0c0c0"/>
<rect x="506" y="649" width="1" height="5" fill="#c0c0c0"/>
<rect x="510" y="649" width="1" height="5" fill="#c0c0c0"/>
<rect x="514" y="648" width="1" height="6" fill="#c0c0c0"/>
<rect x="518" y="648" width="1" height="6" fill="#c0c0c0"/>
<rect x="522" y="648" width="1" height="6" fill="#c0c0c0"/>
<rect x="526" y="647" width="1" height="7" fill="#c0c0c0"/>
<rect x="530" y="647" width="1" height="7" fill="#c0c0c0"/>
<rect x="534" y="646" width="1" height="8" fill="#c0c0c0"/>
<rect x="538" y="646" width="1" height="8" fill="#c0c0c0"/>
<rect x="542" y="646" width="1" height="8" fill="#c0c0c0"/>
<rect x="546" y="646" width="1" height="8" fill="#c0c0c0"/>
<rect x="550" y="646" width="1" height="8" fill="#c0c0c0"/>
<rect x="554" y="646" width="1" height="8" fill="#c0c0c0"/>
<rect x="558" y="647" width="1" height="7" fill="#c0c0c0"/>
<rect x="562" y="648" width="1" height="6" fill="#c0c0c0"/>
<rect x="566" y="651" width="1" height="3" fill="#c0c0c0"/>
<rect x="570" y="652" width="1" height="2" fill="#c0c0c0"/>
<rect x="574" y="653" width="1" height="1" fill="#c0c0c0"/>
<rect x="578" y="653" width="1" height="1" fill="#c0c0c0"/>
<rect x="582" y="653" width="1" height="2" fill="#c0c0c0"/>
<rect x="586" y="653" width="1" height="2" fill="#c0c0c0"/>
<rect x="590" y="653" width="1" height="2" fill="#c0c0c0"/>
<rect x="594" y="653" width="1" height="2" fill="#c0c0c0"/>
<rect x="598" y="653" width="1" height="3" fill="#c0c0c0"/>
<rect x="602" y="653" width="1" height="3" fill="#c0c0c0"/>
<rect x="606" y="653" width="1" height="4" fill="#c0c0c0"/>
<rect x="610" y="653" width="1" height="4" fill="#c0c0c0"/>
<rect x="614" y="653" width="1" height="5" fill="#c0c0c0"/>
<rect x="618" y="653" width="1" height="5" fill="#c0c0c0"/>
<rect x="622" y="653" width="1" height="5" fill="#c0c0c0"/>
<rect x="626" y="653" width="1" height="5" fill="#c0c0c0"/>
<rect x="630" y="653" width="1" height="5" fill="#c0c0c0"/>
<rect x="634" y="653" width="1" height="5" fill="#c0c0c0"/>
<rect x="638" y="653" width="1" height="4" fill="#c0c0c0"/>
<rect x="642" y="653" width="1" height="3" fill="#c0c0c0"/>
<rect x="646" y="653" width="1" height="3" fill="#c0c0c0"/>
<rect x="650" y="653" width="1" height="2" fill="#c0c0c0"/>
<rect x="654" y="653" width="1" height="2" fill="#c0c0c0"/>
<rect x="658" y="653" width="1" height="1" fill="#c0c0c0"/>
<rect x="662" y="653" width="1" height="1" fill="#c0c0c0"/>
<rect x="666" y="652" width="1" height="2" fill="#c0c0c0"/>
<rect x="670" y="652" width="1" height="2" fill="#c0c0c0"/>
<rect x="674" y="651" width="1" height="3" fill="#c0c0c0"/>
<rect x="678" y="651" width="1" height="3" fill="#c0c0c0"/>
<rect x="682" y="650" width="1" height="4" fill="#c0c0c0"/>
<rect x="686" y="650" width="1" height="4" fill="#c0c0c0"/>
<rect x="690" y="650" width="1" height="4" fill="#c0c0c0"/>
<rect x="694" y="649" width="1" height="5" fill="#c0c0c0"/>
<rect x="698" y="649" width="1" height="5" fill="#c0c0c0"/>
<rect x="702" y="649" width="1" height="5" fill="#c0c0c0"/>
<rect x="706" y="649" width="1" height="5" fill="#c0c0c0"/>
<rect x="710" y="648" width="1" height="6" fill="#c0c0c0"/>
<rect x="714" y="648" width="1" height="6" fill="#c0c0c0"/>
<rect x="718" y="647" width="1" height="7" fill="#c0c0c0"/>
<rect x="722" y="646" width="1" height="8" fill="#c0c0c0"/>
<rect x="726" y="645" width="1" height="9" fill="#c0c0c0"/>
<rect x="730" y="644" width="1" height="10" fill="#c0c0c0"/>
<rect x="734" y="642" width="1" height="12" fill="#c0c0c0"/>
<rect x="738" y="641" width="1" height="13" fill="#c0c0c0"/>
<rect x="742" y="642" width="1" height="12" fill="#c0c0c0"/>
<rect x="746" y="642" width="1" height="12" fill="#c0c0c0"/>
<rect x="750" y="643" width="1" height="11" fill="#c0c0c0"/>
<rect x="754" y="644" width="1" height="10" fill="#c0c0c0"/>
<rect x="758" y="646" width="1" height="8" fill="#c0c0c0"/>
<rect x="762" y="649" width="1" height="5" fill="#c0c0c0"/>
<rect x="766" y="652" width="1" height="2" fill="#c0c0c0"/>
<rect x="770" y="653" width="1" height="1" fill="#c0c0c0"/>
<rect x="774" y="653" width="1" height="1" fill="#c0c0c0"/>
<rect x="778" y="653" width="1" height="1" fill="#c0c0c0"/>
<rect x="782" y="653" width="1" height="1" fill="#c0c0c0"/>
<rect x="786" y="653" width="1" height="2" fill="#c0c0c0"/>
<rect x="790" y="653" width="1" height="2" fill="#c0c0c0"/>
<rect x="794" y="653" width="1" height="2" fill="#c0c0c0"/>
<rect x="798" y="653" width="1" height="2" fill="#c0c0c0"/>
<rect x="802" y="653" width="1" height="2" fill="#c0c0c0"/>
<rect x="806" y="653" width="1" height="2" fill="#c0c0c0"/>
<rect x="810" y="653" width="1" height="3" fill="#c0c0c0"/>
<rect x="814" y="653" width="1" height="3" fill="#c0c0c0"/>
<rect x="818" y="653" width="1" height="4" fill="#c0c0c0"/>
<rect x="822" y="653" width="1" height="6" fill="#c0c0c0"/>
<rect x="826" y="653" width="1" height="7" fill="#c0c0c0"/>
<rect x="830" y="653" width="1" height="9" fill="#c0c0c0"/>
<rect x="834" y="653" width="1" height="10" fill="#c0c0c0"/>
<rect x="838" y="653" width="1" height="12" fill="#c0c0c0"/>
<rect x="842" y="653" width="1" height="13" fill="#c0c0c0"/>
<rect x="846" y="653" width="1" height="14" fill="#c0c0c0"/>
<rect x="850" y="653" width="1" height="15" fill="#c0c0c0"/>
<rect x="854" y="653" width="1" height="15" fill="#c0c0c0"/>
<rect x="858" y="653" width="1" height="14" fill="#c0c0c0"/>
<rect x="862" y="653" width="1" height="14" fill="#c0c0c0"/>
<rect x="866" y="653" width="1" height="13" fill="#c0c0c0"/>
<rect x="870" y="653" width="1" height="13" fill="#c0c0c0"/>
<rect x="874" y="653" width="1" height="12" fill="#c0c0c0"/>
<rect x="878" y="653" width="1" height="12" fill="#c0c0c0"/>
<rect x="882" y="653" width="1" height="11" fill="#c0c0c0"/>
<rect x="886" y="653" width="1" height="11" fill="#c0c0c0"/>
<rect x="890" y="653" width="1" height="10" fill="#c0c0c0"/>
<rect x="894" y="653" width="1" height="10" fill="#c0c0c0"/>
<rect x="898" y="653" width="1" height="9" fill="#c0c0c0"/>
<rect x="902" y="653" width="1" height="9" fill="#c0c0c0"/>
<rect x="906" y="653" width="1" height="9" fill="#c0c0c0"/>
<rect x="910" y="653" width="1" height="9" fill="#c0c0c0"/>
<rect x="914" y="653" width="1" height="9" fill="#c0c0c0"/>
<rect x="918" y="653" width="1" height="10" fill="#c0c0c0"/>
<rect x="922" y="653" width="1" height="11" fill="#c0c0c0"/>
<rect x="926" y="653" width="1" height="11" fill="#c0c0c0"/>
<rect x="930" y="653" width="1" height="13" fill="#c0c0c0"/>
<rect x="934" y="653" width="1" height="16" fill="#c0c0c0"/>
<rect x="938" y="653" width="1" height="18" fill="#c0c0c0"/>
<rect x="942" y="653" width="1" height="19" fill="#c0c0c0"/>
<rect x="946" y="653" width="1" height="19" fill="#c0c0c0"/>
<rect x="950" y="653" width="1" height="18" fill="#c0c0c0"/>
<rect x="954" y="653" width="1" height="16" fill="#c0c0c0"/>
<rect x="958" y="653" width="1" height="14" fill="#c0c0c0"/>
<rect x="962" y="653" width="1" height="10" fill="#c0c0c0"/>
<rect x="966" y="653" width="1" height="10" fill="#c0c0c0"/>
<rect x="970" y="653" width="1" height="7" fill="#c0c0c0"/>
<rect x="974" y="653" width="1" height="10" fill="#c0c0c0"/>
<rect x="978" y="653" width="1" height="12" fill="#c0c0c0"/>
<rect x="982" y="653" width="1" height="16" fill="#c0c0c0"/>
<rect x="986" y="653" width="1" height="23" fill="#c0c0c0"/>
<rect x="990" y="653" width="1" height="30" fill="#c0c0c0"/>
<rect x="994" y="653" width="1" height="33" fill="#c0c0c0"/>
<rect x="998" y="653" width="1" height="40" fill="#c0c0c0"/>
<rect x="1002" y="653" width="1" height="48" fill="#c0c0c0"/>
<rect x="1006" y="653" width="1" height="53" fill="#c0c0c0"/>
<rect x="1010" y="653" width="1" height="56" fill="#c0c0c0"/>
<rect x="1014" y="653" width="1" height="60" fill="#c0c0c0"/>
<rect x="1018" y="653" width="1" height="62" fill="#c0c0c0"/>
<rect x="1022" y="653" width="1" height="60" fill="#c0c0c0"/>
<rect x="1026" y="653" width="1" height="56" fill="#c0c0c0"/>
<rect x="1030" y="653" width="1" height="52" fill="#c0c0c0"/>
<rect x="1034" y="653" width="1" height="45" fill="#c0c0c0"/>
<rect x="1038" y="653" width="1" height="39" fill="#c0c0c0"/>
<rect x="1042" y="653" width="1" height="33" fill="#c0c0c0"/>
<rect x="1046" y="653" width="1" height="29" fill="#c0c0c0"/>
<rect x="1050" y="653" width="1" height="26" fill="#c0c0c0"/>
<rect x="1054" y="653" width="1" height="26" fill="#c0c0c0"/>
<rect x="1058" y="653" width="1" height="26" fill="#c0c0c0"/>
<rect x="1062" y="653" width="1" height="25" fill="#c0c0c0"/>
<rect x="1066" y="653" width="1" height="23" fill="#c0c0c0"/>
<rect x="1070" y="653" width="1" height="18" fill="#c0c0c0"/>
<rect x="1074" y="653" width="1" height="13" fill="#c0c0c0"/>
<rect x="1078" y="653" width="1" height="7" fill="#c0c0c0"/>
<rect x="1082" y="653" width="1" height="3" fill="#c0c0c0"/>
<rect x="1086" y="652" width="1" height="2" fill="#c0c0c0"/>
<rect x="1090" y="648" width="1" height="6" fill="#c0c0c0"/>
<rect x="1094" y="644" width="1" height="10" fill="#c0c0c0"/>
<rect x="1098" y="643" width="1" height="11" fill="#c0c0c0"/>
<rect x="1102" y="643" width="1" height="11" fill="#c0c0c0"/>
<rect x="1106" y="642" width="1" height="12" fill="#c0c0c0"/>
<rect x="1110" y="641" width="1" height="13" fill="#c0c0c0"/>
<rect x="1114" y="641" width="1" height="13" fill="#c0c0c0"/>
<rect x="1118" y="641" width="1" height="13" fill="#c0c0c0"/>
<rect x="1122" y="641" width="1" height="13" fill="#c0c0c0"/>
<rect x="1126" y="641" width="1" height="13" fill="#c0c0c0"/>
<rect x="1130" y="641" width="1" height="13" fill="#c0c0c0"/>
<rect x="1134" y="640" width="1" height="14" fill="#c0c0c0"/>
<rect x="1138" y="639" width="1" height="15" fill="#c0c0c0"/>
<rect x="1142" y="637" width="1" height="17" fill="#c0c0c0"/>
<rect x="1146" y="635" width="1" height="19" fill="#c0c0c0"/>
<rect x="1150" y="634" width="1" height="20" fill="#c0c0c0"/>
<rect x="1154" y="634" width="1" height="20" fill="#c0c0c0"/>
<rect x="1158" y="636" width="1" height="18" fill="#c0c0c0"/>
<rect x="1162" y="637" width="1" height="17" fill="#c0c0c0"/>
<rect x="1166" y="639" width="1" height="15" fill="#c0c0c0"/>
<rect x="1170" y="639" width="1" height="15" fill="#c0c0c0"/>
<rect x="1174" y="639" width="1" height="15" fill="#c0c0c0"/>
<rect x="1178" y="638" width="1" height="16" fill="#c0c0c0"/>
<rect x="1182" y="637" width="1" height="17" fill="#c0c0c0"/>
<rect x="1186" y="637" width="1" height="17" fill="#c0c0c0"/>
<rect x="1190" y="638" width="1" height="16" fill="#c0c0c0"/>
<rect x="1194" y="639" width="1" height="15" fill="#c0c0c0"/>
<rect x="1198" y="641" width="1" height="13" fill="#c0c0c0"/>
<rect x="1202" y="643" width="1" height="11" fill="#c0c0c0"/>
<rect x="1206" y="645" width="1" height="9" fill="#c0c0c0"/>
<rect x="1210" y="646" width="1" height="8" fill="#c0c0c0"/>
<path d="M6 664h1v1h-1zM7 663h2v1h-2zM12 661h3v1h-3zM18 660h2v1h-2zM20 659h1v1h-1zM24 658h3v1h-3zM30 657h2v1h-2zM32 656h1v1h-1zM36 655h3v1h-3zM42 654h3v1h-3zM48 653h3v1h-3zM54 654h2v1h-2zM56 655h1v1h-1zM60 655h3v1h-3zM66 656h2v1h-2zM68 657h1v1h-1zM72 657h3v1h-3zM78 657h2v1h-2zM80 658h1v1h-1zM84 658h3v1h-3zM90 657h2v1h-2zM92 656h1v1h-1zM96 655h3v1h-3zM102 654h2v1h-2zM104 653h1v1h-1zM108 652h3v1h-3zM114 651h2v1h-2zM116 650h1v1h-1zM120 649h3v1h-3zM126 649h3v1h-3zM132 649h3v1h-3zM138 649h2v1h-2zM140 650h1v1h-1zM144 650h3v1h-3zM150 650h3v1h-3zM156 650h3v1h-3zM162 649h3v1h-3zM168 649h3v1h-3zM174 649h2v1h-2zM176 648h1v1h-1zM180 648h3v1h-3zM186 648h3v1h-3zM192 648h3v1h-3zM198 649h2v1h-2zM200 650h1v1h-1zM204 651h3v1h-3zM210 653h2v1h-2zM212 654h1v1h-1zM216 655h3v1h-3zM222 657h1v1h-1zM223 658h2v1h-2zM228 660h1v1h-1zM229 661h2v1h-2zM234 662h2v1h-2zM236 663h1v1h-1zM240 664h3v1h-3zM246 665h2v1h-2zM248 666h1v1h-1zM252 667h3v1h-3zM258 667h3v1h-3zM264 667h3v1h-3zM270 667h3v1h-3zM276 666h3v1h-3zM282 666h2v1h-2zM284 665h1v1h-1zM288 665h3v1h-3zM294 664h3v1h-3zM300 663h3v1h-3zM306 663h3v1h-3zM312 662h3v1h-3zM318 662h3v1h-3zM324 662h3v1h-3zM330 661h3v1h-3zM336 660h3v1h-3zM342 659h2v1h-2zM344 658h1v1h-1zM348 657h1v1h-1zM349 656h2v1h-2zM354 655h1v1h-1zM355 654h2v1h-2zM360 652h3v1h-3zM366 651h2v1h-2zM368 650h1v1h-1zM372 649h3v1h-3zM378 648h3v1h-3zM384 648h3v1h-3zM390 649h3v1h-3zM396 650h1v1h-1zM397 651h2v1h-2zM402 653h2v1h-2zM404 654h1v1h-1zM408 655h3v1h-3zM414 655h2v1h-2zM416 656h1v1h-1zM420 657h3v1h-3zM426 657h2v1h-2zM428 658h1v1h-1zM432 658h3v1h-3zM438 658h3v1h-3zM444 658h3v1h-3zM450 658h3v1h-3zM456 658h3v1h-3zM462 657h3v1h-3zM468 656h3v1h-3zM474 656h3v1h-3zM480 655h3v1h-3zM486 654h2v1h-2zM488 653h1v1h-1zM492 652h3v1h-3zM498 651h3v1h-3zM504 650h3v1h-3zM510 650h2v1h-2zM512 649h1v1h-1zM516 649h3v1h-3zM522 648h3v1h-3zM528 648h3v1h-3zM534 647h3v1h-3zM540 646h3v1h-3zM546 646h3v1h-3zM552 646h3v1h-3zM558 646h3v1h-3zM564 646h3v1h-3zM570 646h2v1h-2zM572 647h1v1h-1zM576 648h3v1h-3zM582 649h2v1h-2zM584 650h1v1h-1zM588 651h3v1h-3zM594 652h2v1h-2zM596 653h1v1h-1zM600 654h3v1h-3zM606 655h3v1h-3zM612 656h3v1h-3zM618 656h3v1h-3zM624 657h3v1h-3zM630 657h3v1h-3zM636 657h3v1h-3zM642 657h3v1h-3zM648 656h3v1h-3zM654 656h2v1h-2zM656 655h1v1h-1zM660 655h3v1h-3zM666 654h2v1h-2zM668 653h1v1h-1zM672 652h3v1h-3zM678 652h2v1h-2zM680 651h1v1h-1zM684 651h3v1h-3zM690 650h3v1h-3zM696 649h3v1h-3zM702 649h3v1h-3zM708 648h3v1h-3zM714 648h2v1h-2zM716 647h1v1h-1zM720 646h3v1h-3zM726 646h2v1h-2zM728 645h1v1h-1zM732 644h3v1h-3zM738 643h3v1h-3zM744 642h3v1h-3zM750 642h2v1h-2zM752 643h1v1h-1zM756 643h3v1h-3zM762 643h2v1h-2zM764 644h1v1h-1zM768 645h3v1h-3zM774 647h2v1h-2zM776 648h1v1h-1zM780 649h1v1h-1zM781 650h2v1h-2zM786 650h2v1h-2zM788 651h1v1h-1zM792 651h3v1h-3zM798 652h2v1h-2zM800 653h1v1h-1zM804 654h3v1h-3zM810 655h3v1h-3zM816 656h3v1h-3zM822 656h2v1h-2zM824 657h1v1h-1zM828 658h3v1h-3zM834 659h2v1h-2zM836 660h1v1h-1zM840 661h3v1h-3zM846 662h1v1h-1zM847 663h2v1h-2zM852 665h3v1h-3zM858 666h3v1h-3zM864 666h3v1h-3zM870 667h2v1h-2zM872 666h1v1h-1zM876 666h3v1h-3zM882 666h3v1h-3zM888 665h3v1h-3zM894 665h2v1h-2zM896 664h1v1h-1zM900 664h3v1h-3zM906 663h3v1h-3zM912 663h3v1h-3zM918 662h2v1h-2zM920 663h1v1h-1zM924 663h3v1h-3zM930 663h2v1h-2zM932 664h1v1h-1zM936 665h3v1h-3zM942 667h3v1h-3zM948 668h3v1h-3zM954 668h3v1h-3zM960 668h3v1h-3zM966 668h1v1h-1zM967 667h2v1h-2zM972 665h3v1h-3zM978 665h3v1h-3zM984 665h3v1h-3zM990 667h1v1h-1zM991 668h2v1h-2zM996 671h1v1h-1zM997 672h1v1h-1zM998 673h1v1h-1zM1002 677h1v1h-1zM1003 678h1v1h-1zM1004 679h1v1h-1zM1007 683h1v1h-1zM1008 684h1v2h-1zM1012 689h1v2h-1zM1013 691h1v1h-1zM1016 695h1v1h-1zM1017 696h1v1h-1zM1018 697h1v1h-1zM1022 701h1v1h-1zM1023 702h1v1h-1zM1024 703h1v1h-1zM1028 705h1v1h-1zM1029 706h2v1h-2zM1034 708h2v1h-2zM1036 707h1v1h-1zM1040 705h2v1h-2zM1042 704h1v1h-1zM1046 702h1v1h-1zM1047 701h1v1h-1zM1048 700h1v1h-1zM1052 696h1v1h-1zM1053 695h1v1h-1zM1054 694h1v1h-1zM1058 690h1v1h-1zM1059 689h1v1h-1zM1060 688h1v1h-1zM1064 685h2v1h-2zM1066 684h1v1h-1zM1070 680h1v1h-1zM1071 679h1v1h-1zM1072 678h1v1h-1zM1076 676h1v1h-1zM1077 675h2v1h-2zM1082 672h1v1h-1zM1083 671h1v1h-1zM1084 670h1v1h-1zM1088 666h2v1h-2zM1090 665h1v1h-1zM1094 661h1v1h-1zM1095 660h1v1h-1zM1096 659h1v1h-1zM1100 656h1v1h-1zM1101 655h1v1h-1zM1102 654h1v1h-1zM1106 650h1v1h-1zM1107 649h1v1h-1zM1108 648h1v1h-1zM1112 646h1v1h-1zM1113 645h2v1h-2zM1118 643h2v1h-2zM1120 642h1v1h-1zM1124 641h3v1h-3zM1130 641h3v1h-3zM1136 640h3v1h-3zM1142 640h2v1h-2zM1144 639h1v1h-1zM1148 638h3v1h-3zM1154 637h3v1h-3zM1160 637h3v1h-3zM1166 637h2v1h-2zM1168 636h1v1h-1zM1172 636h3v1h-3zM1178 636h3v1h-3zM1184 637h3v1h-3zM1190 637h2v1h-2zM1192 638h1v1h-1zM1196 638h3v1h-3zM1202 639h2v1h-2zM1204 640h1v1h-1zM1208 640h3v1h-3z" fill="#ff0000"/>
<text x="10.2" y="640" font-size="9.8" fill="#000" stroke="#000" stroke-width="0.15" textLength="147.5" lengthAdjust="spacingAndGlyphs">MACD(12,26,9) 0.002727 0.004627</text>
<text x="1525.8" y="638" font-size="10.2" fill="#000" stroke="#000" stroke-width="0.15" textLength="36.6" lengthAdjust="spacingAndGlyphs">0.008815</text>
<text x="1525.8" y="657" font-size="10.2" fill="#000" stroke="#000" stroke-width="0.15" textLength="16.6" lengthAdjust="spacingAndGlyphs">0.00</text>
<text x="1525" y="716" font-size="10.2" fill="#000" stroke="#000" stroke-width="0.15" textLength="42.0" lengthAdjust="spacingAndGlyphs">-0.024082</text>
<rect x="1522" y="719" width="1" height="1" fill="#000"/>
<rect x="1522" y="653" width="2" height="1" fill="#000"/>
<rect x="6" y="720" width="1" height="3" fill="#000"/>
<text x="5.4" y="732" font-size="10.2" fill="#000" stroke="#000" stroke-width="0.15" textLength="44.4" lengthAdjust="spacingAndGlyphs">1 Jun 2019</text>
<rect x="70" y="720" width="1" height="3" fill="#000"/>
<text x="69.4" y="732" font-size="10.2" fill="#000" stroke="#000" stroke-width="0.15" textLength="50.0" lengthAdjust="spacingAndGlyphs">20 Jun 2019</text>
<rect x="134" y="720" width="1" height="3" fill="#000"/>
<text x="133.4" y="732" font-size="10.2" fill="#000" stroke="#000" stroke-width="0.15" textLength="41.6" lengthAdjust="spacingAndGlyphs">9 Jul 2019</text>
<rect x="198" y="720" width="1" height="3" fill="#000"/>
<text x="197.4" y="732" font-size="10.2" fill="#000" stroke="#000" stroke-width="0.15" textLength="45.9" lengthAdjust="spacingAndGlyphs">27 Jul 2019</text>
<rect x="262" y="720" width="1" height="3" fill="#000"/>
<text x="261.4" y="732" font-size="10.2" fill="#000" stroke="#000" stroke-width="0.15" textLength="51.5" lengthAdjust="spacingAndGlyphs">15 Aug 2019</text>
<rect x="326" y="720" width="1" height="3" fill="#000"/>
<text x="325.4" y="732" font-size="10.2" fill="#000" stroke="#000" stroke-width="0.15" textLength="46.1" lengthAdjust="spacingAndGlyphs">3 Sep 2019</text>
<rect x="390" y="720" width="1" height="3" fill="#000"/>
<text x="389.4" y="732" font-size="10.2" fill="#000" stroke="#000" stroke-width="0.15" textLength="51.4" lengthAdjust="spacingAndGlyphs">21 Sep 2019</text>
<rect x="454" y="720" width="1" height="3" fill="#000"/>
<text x="453.4" y="732" font-size="10.2" fill="#000" stroke="#000" stroke-width="0.15" textLength="50.4" lengthAdjust="spacingAndGlyphs">10 Oct 2019</text>
<rect x="518" y="720" width="1" height="3" fill="#000"/>
<text x="517.4" y="732" font-size="10.2" fill="#000" stroke="#000" stroke-width="0.15" textLength="50.7" lengthAdjust="spacingAndGlyphs">29 Oct 2019</text>
<rect x="582" y="720" width="1" height="3" fill="#000"/>
<text x="581.4" y="732" font-size="10.2" fill="#000" stroke="#000" stroke-width="0.15" textLength="53.3" lengthAdjust="spacingAndGlyphs">16 Nov 2019</text>
<rect x="646" y="720" width="1" height="3" fill="#000"/>
<text x="645.4" y="732" font-size="10.2" fill="#000" stroke="#000" stroke-width="0.15" textLength="46.4" lengthAdjust="spacingAndGlyphs">5 Dec 2019</text>
<rect x="710" y="720" width="1" height="3" fill="#000"/>
<text x="709.4" y="732" font-size="10.2" fill="#000" stroke="#000" stroke-width="0.15" textLength="51.5" lengthAdjust="spacingAndGlyphs">24 Dec 2019</text>
<rect x="774" y="720" width="1" height="3" fill="#000"/>
<text x="773.4" y="732" font-size="10.2" fill="#000" stroke="#000" stroke-width="0.15" textLength="49.2" lengthAdjust="spacingAndGlyphs">11 Jan 2020</text>
<rect x="838" y="720" width="1" height="3" fill="#000"/>
<text x="837.4" y="732" font-size="10.2" fill="#000" stroke="#000" stroke-width="0.15" textLength="48.9" lengthAdjust="spacingAndGlyphs">30 Jan 2020</text>
<rect x="902" y="720" width="1" height="3" fill="#000"/>
<text x="901.4" y="732" font-size="10.2" fill="#000" stroke="#000" stroke-width="0.15" textLength="51.5" lengthAdjust="spacingAndGlyphs">18 Feb 2020</text>
<rect x="966" y="720" width="1" height="3" fill="#000"/>
<text x="965.4" y="732" font-size="10.2" fill="#000" stroke="#000" stroke-width="0.15" textLength="46.4" lengthAdjust="spacingAndGlyphs">7 Mar 2020</text>
<rect x="1030" y="720" width="1" height="3" fill="#000"/>
<text x="1029.4" y="732" font-size="10.2" fill="#000" stroke="#000" stroke-width="0.15" textLength="51.5" lengthAdjust="spacingAndGlyphs">26 Mar 2020</text>
<rect x="1094" y="720" width="1" height="3" fill="#000"/>
<text x="1093.4" y="732" font-size="10.2" fill="#000" stroke="#000" stroke-width="0.15" textLength="50.2" lengthAdjust="spacingAndGlyphs">14 Apr 2020</text>
<rect x="1158" y="720" width="1" height="3" fill="#000"/>
<text x="1157.4" y="732" font-size="10.2" fill="#000" stroke="#000" stroke-width="0.15" textLength="49.6" lengthAdjust="spacingAndGlyphs">2 May 2020</text>
<rect x="3" y="740" width="1566" height="1" fill="#e3e3e3"/>
<rect x="0" y="743" width="1566" height="19" fill="#f0f0f0"/>
<rect x="2" y="742" width="1566" height="1" fill="#000"/>
<rect x="2" y="742" width="1" height="19" fill="#000"/>
<rect x="212" y="742" width="102" height="18" fill="#fff"/>
<rect x="211" y="742" width="1" height="19" fill="#000"/>
<rect x="314" y="742" width="1" height="19" fill="#000"/>
<rect x="211" y="760" width="104" height="1" fill="#000"/>
<text x="19.4" y="756.5" font-size="12" fill="#6a6a6a" stroke="#6a6a6a" stroke-width="0" textLength="79.7" lengthAdjust="spacingAndGlyphs">EURUSD,Daily</text>
<text x="121.2" y="756.5" font-size="12" fill="#6a6a6a" stroke="#6a6a6a" stroke-width="0" textLength="78.6" lengthAdjust="spacingAndGlyphs">USDCHF,Daily</text>
<text x="325.8" y="756.5" font-size="12" fill="#6a6a6a" stroke="#6a6a6a" stroke-width="0" textLength="81.3" lengthAdjust="spacingAndGlyphs">USDCAD,Daily</text>
<text x="429" y="756.5" font-size="12" fill="#6a6a6a" stroke="#6a6a6a" stroke-width="0" textLength="83.1" lengthAdjust="spacingAndGlyphs">USDCNH,Daily</text>
<text x="534.9" y="756.5" font-size="12" fill="#6a6a6a" stroke="#6a6a6a" stroke-width="0" textLength="80.2" lengthAdjust="spacingAndGlyphs">EURUSD,Daily</text>
<text x="638.7" y="756.5" font-size="12" fill="#6a6a6a" stroke="#6a6a6a" stroke-width="0" textLength="80.4" lengthAdjust="spacingAndGlyphs">GBPUSD,Daily</text>
<text x="741.1" y="756.5" font-size="12" fill="#6a6a6a" stroke="#6a6a6a" stroke-width="0" textLength="78.2" lengthAdjust="spacingAndGlyphs">XAUUSD,M30</text>
<text x="842.1" y="756.5" font-size="12" fill="#6a6a6a" stroke="#6a6a6a" stroke-width="0" textLength="49.6" lengthAdjust="spacingAndGlyphs">HK50,H1</text>
<text x="914" y="756.5" font-size="12" fill="#6a6a6a" stroke="#6a6a6a" stroke-width="0" textLength="56.3" lengthAdjust="spacingAndGlyphs">UK100,H1</text>
<text x="993.6" y="756.5" font-size="12" fill="#6a6a6a" stroke="#6a6a6a" stroke-width="0" textLength="57.1" lengthAdjust="spacingAndGlyphs">UK100,H1</text>
<text x="1073.5" y="756.5" font-size="12" fill="#6a6a6a" stroke="#6a6a6a" stroke-width="0" textLength="56.9" lengthAdjust="spacingAndGlyphs">GER30,H1</text>
<text x="1153" y="756.5" font-size="12" fill="#6a6a6a" stroke="#6a6a6a" stroke-width="0" textLength="54.6" lengthAdjust="spacingAndGlyphs">FRA40,H1</text>
<text x="1229.1" y="756.5" font-size="12" fill="#6a6a6a" stroke="#6a6a6a" stroke-width="0" textLength="50.4" lengthAdjust="spacingAndGlyphs">USOil,H4</text>
<text x="1301" y="756.5" font-size="12" fill="#6a6a6a" stroke="#6a6a6a" stroke-width="0" textLength="62.2" lengthAdjust="spacingAndGlyphs">USDJPY,H1</text>
<text x="1384.7" y="756.5" font-size="12" fill="#6a6a6a" stroke="#6a6a6a" stroke-width="0" textLength="46.4" lengthAdjust="spacingAndGlyphs">DJ30,H1</text>
<text x="222.6" y="756.5" font-size="12" fill="#000" stroke="#000" stroke-width="0" textLength="81.4" lengthAdjust="spacingAndGlyphs">AUDUSD,Daily</text>
<rect x="111" y="745" width="1" height="14" fill="#404040"/>
<rect x="419" y="745" width="1" height="14" fill="#404040"/>
<rect x="523" y="745" width="1" height="14" fill="#404040"/>
<rect x="627" y="745" width="1" height="14" fill="#404040"/>
<rect x="732" y="745" width="1" height="14" fill="#404040"/>
<rect x="832" y="745" width="1" height="14" fill="#404040"/>
<rect x="903" y="745" width="1" height="14" fill="#404040"/>
<rect x="983" y="745" width="1" height="14" fill="#404040"/>
<rect x="1063" y="745" width="1" height="14" fill="#404040"/>
<rect x="1143" y="745" width="1" height="14" fill="#404040"/>
<rect x="1219" y="745" width="1" height="14" fill="#404040"/>
<rect x="1291" y="745" width="1" height="14" fill="#404040"/>
<rect x="1375" y="745" width="1" height="14" fill="#404040"/>
<rect x="1443" y="745" width="1" height="14" fill="#404040"/>
<polygon points="1540,748.3 1540,754.7 1536.8,751.5" fill="#a0a0a0"/>
<polygon points="1556,748.3 1556,754.7 1559.2,751.5" fill="#a0a0a0"/>
</svg>
</body></html>
